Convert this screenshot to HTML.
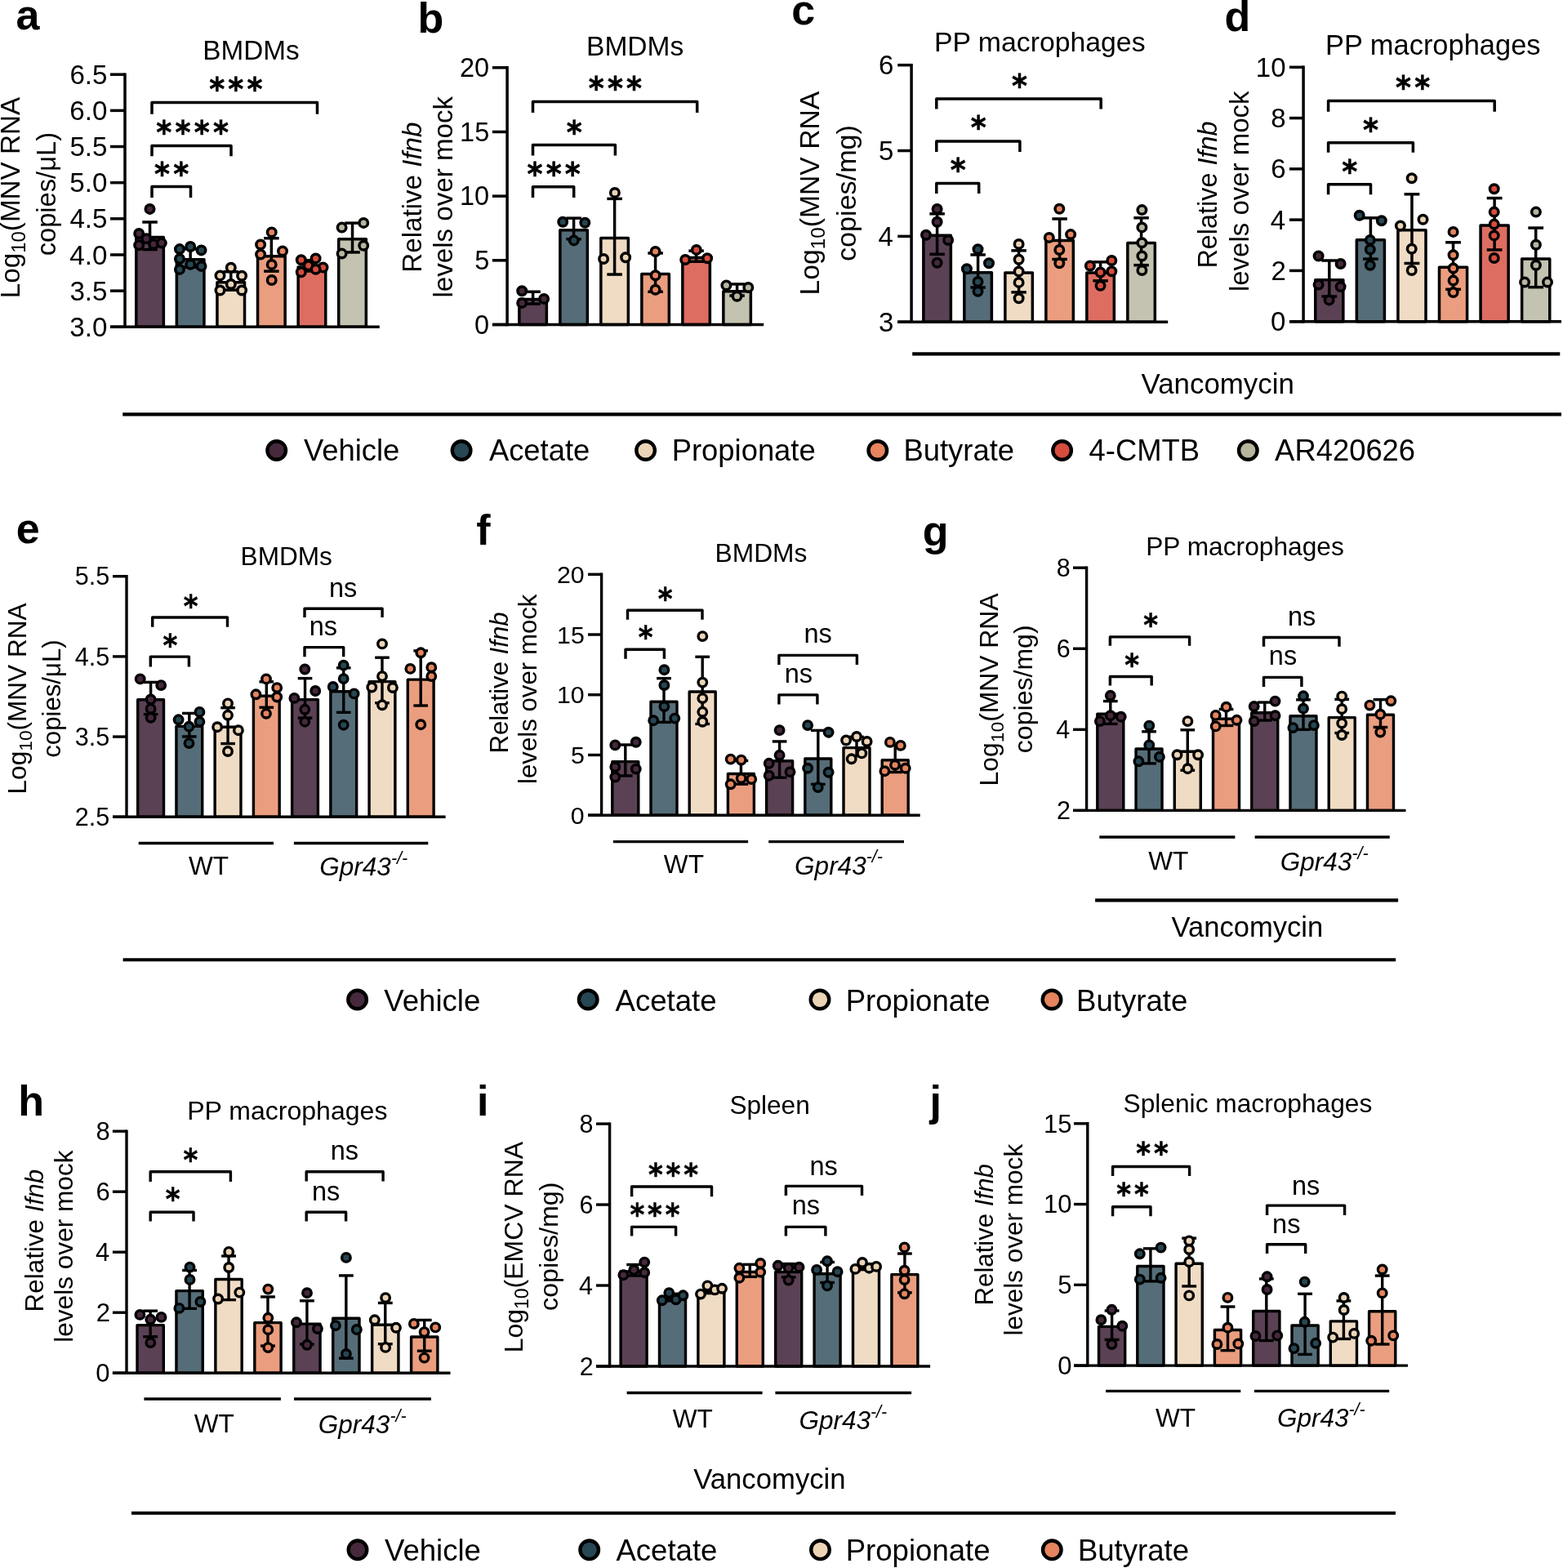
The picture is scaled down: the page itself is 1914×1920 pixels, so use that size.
<!DOCTYPE html>
<html><head><meta charset="utf-8"><title>Figure</title>
<style>html,body{margin:0;padding:0;background:#fff;}svg{display:block;}</style></head>
<body><svg xmlns="http://www.w3.org/2000/svg" width="1914" height="1920" viewBox="0 0 1914 1920">
<rect width="1914" height="1920" fill="#fff"/>
<g stroke="#000" fill="#000" font-family="'Liberation Sans', Arial, Helvetica, sans-serif">
<g stroke="none">
</g>
<rect x="166.75" y="290.52" width="33.6" height="109.78" fill="#5b4154" stroke-width="3.5" stroke-linejoin="round"/>
<rect x="216.35" y="317.76" width="33.6" height="82.54" fill="#556d78" stroke-width="3.5" stroke-linejoin="round"/>
<rect x="265.95" y="345.7" width="33.6" height="54.6" fill="#f0dcc4" stroke-width="3.5" stroke-linejoin="round"/>
<rect x="315.55" y="313.68" width="33.6" height="86.62" fill="#ea9e7f" stroke-width="3.5" stroke-linejoin="round"/>
<rect x="365.15" y="327.12" width="33.6" height="73.18" fill="#de6d61" stroke-width="3.5" stroke-linejoin="round"/>
<rect x="414.75" y="292.78" width="33.6" height="107.52" fill="#c4c3b1" stroke-width="3.5" stroke-linejoin="round"/>
<line x1="183.55" y1="271.97" x2="183.55" y2="305.56" stroke-width="3.5" stroke-linecap="butt"/>
<line x1="174.28" y1="271.97" x2="192.83" y2="271.97" stroke-width="3.5" stroke-linecap="butt"/>
<line x1="174.28" y1="305.56" x2="192.83" y2="305.56" stroke-width="3.5" stroke-linecap="butt"/>
<line x1="233.15" y1="304.78" x2="233.15" y2="327.25" stroke-width="3.5" stroke-linecap="butt"/>
<line x1="223.88" y1="304.78" x2="242.43" y2="304.78" stroke-width="3.5" stroke-linecap="butt"/>
<line x1="223.88" y1="327.25" x2="242.43" y2="327.25" stroke-width="3.5" stroke-linecap="butt"/>
<line x1="282.75" y1="332.75" x2="282.75" y2="355.15" stroke-width="3.5" stroke-linecap="butt"/>
<line x1="273.48" y1="332.75" x2="292.02" y2="332.75" stroke-width="3.5" stroke-linecap="butt"/>
<line x1="273.48" y1="355.15" x2="292.02" y2="355.15" stroke-width="3.5" stroke-linecap="butt"/>
<line x1="332.35" y1="291.73" x2="332.35" y2="332.13" stroke-width="3.5" stroke-linecap="butt"/>
<line x1="323.08" y1="291.73" x2="341.62" y2="291.73" stroke-width="3.5" stroke-linecap="butt"/>
<line x1="323.08" y1="332.13" x2="341.62" y2="332.13" stroke-width="3.5" stroke-linecap="butt"/>
<line x1="381.95" y1="318.77" x2="381.95" y2="331.96" stroke-width="3.5" stroke-linecap="butt"/>
<line x1="372.68" y1="318.77" x2="391.22" y2="318.77" stroke-width="3.5" stroke-linecap="butt"/>
<line x1="372.68" y1="331.96" x2="391.22" y2="331.96" stroke-width="3.5" stroke-linecap="butt"/>
<line x1="431.55" y1="273.12" x2="431.55" y2="308.93" stroke-width="3.5" stroke-linecap="butt"/>
<line x1="422.28" y1="273.12" x2="440.82" y2="273.12" stroke-width="3.5" stroke-linecap="butt"/>
<line x1="422.28" y1="308.93" x2="440.82" y2="308.93" stroke-width="3.5" stroke-linecap="butt"/>
<circle cx="183.5" cy="255.9" r="5.25" fill="#46293c" stroke-width="3.5"/>
<circle cx="170.2" cy="286" r="5.25" fill="#46293c" stroke-width="3.5"/>
<circle cx="179.2" cy="292.2" r="5.25" fill="#46293c" stroke-width="3.5"/>
<circle cx="170.2" cy="300.2" r="5.25" fill="#46293c" stroke-width="3.5"/>
<circle cx="188.1" cy="298.9" r="5.25" fill="#46293c" stroke-width="3.5"/>
<circle cx="197.8" cy="297.6" r="5.25" fill="#46293c" stroke-width="3.5"/>
<circle cx="219.95" cy="305.1" r="5.25" fill="#264753" stroke-width="3.5"/>
<circle cx="233.2" cy="302" r="5.25" fill="#264753" stroke-width="3.5"/>
<circle cx="246.5" cy="306.4" r="5.25" fill="#264753" stroke-width="3.5"/>
<circle cx="219.95" cy="317" r="5.25" fill="#264753" stroke-width="3.5"/>
<circle cx="233.2" cy="323.7" r="5.25" fill="#264753" stroke-width="3.5"/>
<circle cx="246.5" cy="325.9" r="5.25" fill="#264753" stroke-width="3.5"/>
<circle cx="219.95" cy="329.9" r="5.25" fill="#264753" stroke-width="3.5"/>
<circle cx="282.8" cy="327.7" r="5.25" fill="#ecd4b6" stroke-width="3.5"/>
<circle cx="269.5" cy="337.4" r="5.25" fill="#ecd4b6" stroke-width="3.5"/>
<circle cx="296.1" cy="337.8" r="5.25" fill="#ecd4b6" stroke-width="3.5"/>
<circle cx="282.8" cy="348" r="5.25" fill="#ecd4b6" stroke-width="3.5"/>
<circle cx="269.5" cy="355.5" r="5.25" fill="#ecd4b6" stroke-width="3.5"/>
<circle cx="296.1" cy="355.5" r="5.25" fill="#ecd4b6" stroke-width="3.5"/>
<circle cx="332.7" cy="284.4" r="5.25" fill="#e5845e" stroke-width="3.5"/>
<circle cx="319.1" cy="299.5" r="5.25" fill="#e5845e" stroke-width="3.5"/>
<circle cx="346" cy="307.5" r="5.25" fill="#e5845e" stroke-width="3.5"/>
<circle cx="319.1" cy="311.5" r="5.25" fill="#e5845e" stroke-width="3.5"/>
<circle cx="332.7" cy="323.9" r="5.25" fill="#e5845e" stroke-width="3.5"/>
<circle cx="332.7" cy="343" r="5.25" fill="#e5845e" stroke-width="3.5"/>
<circle cx="368.8" cy="318.2" r="5.25" fill="#d64d3e" stroke-width="3.5"/>
<circle cx="386.6" cy="316.4" r="5.25" fill="#d64d3e" stroke-width="3.5"/>
<circle cx="377.7" cy="325.3" r="5.25" fill="#d64d3e" stroke-width="3.5"/>
<circle cx="395.5" cy="327.5" r="5.25" fill="#d64d3e" stroke-width="3.5"/>
<circle cx="386.6" cy="329.7" r="5.25" fill="#d64d3e" stroke-width="3.5"/>
<circle cx="368.8" cy="333.3" r="5.25" fill="#d64d3e" stroke-width="3.5"/>
<circle cx="418.6" cy="278.6" r="5.25" fill="#b8b59e" stroke-width="3.5"/>
<circle cx="445.2" cy="272.9" r="5.25" fill="#b8b59e" stroke-width="3.5"/>
<circle cx="445.2" cy="300.8" r="5.25" fill="#b8b59e" stroke-width="3.5"/>
<circle cx="418.6" cy="310.6" r="5.25" fill="#b8b59e" stroke-width="3.5"/>
<line x1="153" y1="89.45" x2="153" y2="402.05" stroke-width="3.5" stroke-linecap="butt"/>
<line x1="135" y1="400.3" x2="464.8" y2="400.3" stroke-width="3.5" stroke-linecap="butt"/>
<line x1="135" y1="91.2" x2="153" y2="91.2" stroke-width="3.5" stroke-linecap="butt"/>
<line x1="135" y1="135.36" x2="153" y2="135.36" stroke-width="3.5" stroke-linecap="butt"/>
<line x1="135" y1="179.51" x2="153" y2="179.51" stroke-width="3.5" stroke-linecap="butt"/>
<line x1="135" y1="223.67" x2="153" y2="223.67" stroke-width="3.5" stroke-linecap="butt"/>
<line x1="135" y1="267.83" x2="153" y2="267.83" stroke-width="3.5" stroke-linecap="butt"/>
<line x1="135" y1="311.99" x2="153" y2="311.99" stroke-width="3.5" stroke-linecap="butt"/>
<line x1="135" y1="356.14" x2="153" y2="356.14" stroke-width="3.5" stroke-linecap="butt"/>
<line x1="135" y1="400.3" x2="153" y2="400.3" stroke-width="3.5" stroke-linecap="butt"/>
<path d="M186 242V228.5H233.5V242" stroke-width="3.5" fill="none" stroke-linejoin="round"/>
<path d="M186 191.2V178.6H283V191.2" stroke-width="3.5" fill="none" stroke-linejoin="round"/>
<path d="M186 139.8V125.5H388.5V139.8" stroke-width="3.5" fill="none" stroke-linejoin="round"/>
<rect x="635.85" y="366.42" width="33.5" height="31.08" fill="#5b4154" stroke-width="3.5" stroke-linejoin="round"/>
<rect x="685.85" y="281.68" width="33.5" height="115.82" fill="#556d78" stroke-width="3.5" stroke-linejoin="round"/>
<rect x="735.85" y="291.45" width="33.5" height="106.05" fill="#f0dcc4" stroke-width="3.5" stroke-linejoin="round"/>
<rect x="785.85" y="335.38" width="33.5" height="62.12" fill="#ea9e7f" stroke-width="3.5" stroke-linejoin="round"/>
<rect x="835.85" y="315.45" width="33.5" height="82.05" fill="#de6d61" stroke-width="3.5" stroke-linejoin="round"/>
<rect x="885.85" y="356.72" width="33.5" height="40.78" fill="#c4c3b1" stroke-width="3.5" stroke-linejoin="round"/>
<line x1="652.6" y1="357.25" x2="652.6" y2="372.09" stroke-width="3.5" stroke-linecap="butt"/>
<line x1="643.35" y1="357.25" x2="661.85" y2="357.25" stroke-width="3.5" stroke-linecap="butt"/>
<line x1="643.35" y1="372.09" x2="661.85" y2="372.09" stroke-width="3.5" stroke-linecap="butt"/>
<line x1="702.6" y1="267.14" x2="702.6" y2="292.73" stroke-width="3.5" stroke-linecap="butt"/>
<line x1="693.35" y1="267.14" x2="711.85" y2="267.14" stroke-width="3.5" stroke-linecap="butt"/>
<line x1="693.35" y1="292.73" x2="711.85" y2="292.73" stroke-width="3.5" stroke-linecap="butt"/>
<line x1="752.6" y1="243.36" x2="752.6" y2="336.04" stroke-width="3.5" stroke-linecap="butt"/>
<line x1="743.35" y1="243.36" x2="761.85" y2="243.36" stroke-width="3.5" stroke-linecap="butt"/>
<line x1="743.35" y1="336.04" x2="761.85" y2="336.04" stroke-width="3.5" stroke-linecap="butt"/>
<line x1="802.6" y1="309.99" x2="802.6" y2="357.27" stroke-width="3.5" stroke-linecap="butt"/>
<line x1="793.35" y1="309.99" x2="811.85" y2="309.99" stroke-width="3.5" stroke-linecap="butt"/>
<line x1="793.35" y1="357.27" x2="811.85" y2="357.27" stroke-width="3.5" stroke-linecap="butt"/>
<line x1="852.6" y1="307.15" x2="852.6" y2="320.25" stroke-width="3.5" stroke-linecap="butt"/>
<line x1="843.35" y1="307.15" x2="861.85" y2="307.15" stroke-width="3.5" stroke-linecap="butt"/>
<line x1="843.35" y1="320.25" x2="861.85" y2="320.25" stroke-width="3.5" stroke-linecap="butt"/>
<line x1="902.6" y1="347.9" x2="902.6" y2="362.04" stroke-width="3.5" stroke-linecap="butt"/>
<line x1="893.35" y1="347.9" x2="911.85" y2="347.9" stroke-width="3.5" stroke-linecap="butt"/>
<line x1="893.35" y1="362.04" x2="911.85" y2="362.04" stroke-width="3.5" stroke-linecap="butt"/>
<circle cx="639.2" cy="356.3" r="5.25" fill="#46293c" stroke-width="3.5"/>
<circle cx="639.2" cy="370.9" r="5.25" fill="#46293c" stroke-width="3.5"/>
<circle cx="666.1" cy="365.9" r="5.25" fill="#46293c" stroke-width="3.5"/>
<circle cx="689.2" cy="271.8" r="5.25" fill="#264753" stroke-width="3.5"/>
<circle cx="716.3" cy="272.7" r="5.25" fill="#264753" stroke-width="3.5"/>
<circle cx="702.8" cy="294.4" r="5.25" fill="#264753" stroke-width="3.5"/>
<circle cx="752.9" cy="235.9" r="5.25" fill="#ecd4b6" stroke-width="3.5"/>
<circle cx="739.1" cy="317" r="5.25" fill="#ecd4b6" stroke-width="3.5"/>
<circle cx="766.1" cy="315.3" r="5.25" fill="#ecd4b6" stroke-width="3.5"/>
<circle cx="802.6" cy="308" r="5.25" fill="#e5845e" stroke-width="3.5"/>
<circle cx="802.6" cy="337.2" r="5.25" fill="#e5845e" stroke-width="3.5"/>
<circle cx="802.6" cy="354.8" r="5.25" fill="#e5845e" stroke-width="3.5"/>
<circle cx="852.8" cy="305.9" r="5.25" fill="#d64d3e" stroke-width="3.5"/>
<circle cx="839.2" cy="318" r="5.25" fill="#d64d3e" stroke-width="3.5"/>
<circle cx="866.1" cy="316.3" r="5.25" fill="#d64d3e" stroke-width="3.5"/>
<circle cx="889.4" cy="349.4" r="5.25" fill="#b8b59e" stroke-width="3.5"/>
<circle cx="916.3" cy="351.9" r="5.25" fill="#b8b59e" stroke-width="3.5"/>
<circle cx="902.5" cy="362.7" r="5.25" fill="#b8b59e" stroke-width="3.5"/>
<line x1="621.1" y1="81.05" x2="621.1" y2="399.25" stroke-width="3.5" stroke-linecap="butt"/>
<line x1="602.9" y1="397.5" x2="935.2" y2="397.5" stroke-width="3.5" stroke-linecap="butt"/>
<line x1="602.9" y1="82.8" x2="621.1" y2="82.8" stroke-width="3.5" stroke-linecap="butt"/>
<line x1="602.9" y1="161.47" x2="621.1" y2="161.47" stroke-width="3.5" stroke-linecap="butt"/>
<line x1="602.9" y1="240.15" x2="621.1" y2="240.15" stroke-width="3.5" stroke-linecap="butt"/>
<line x1="602.9" y1="318.82" x2="621.1" y2="318.82" stroke-width="3.5" stroke-linecap="butt"/>
<line x1="602.9" y1="397.5" x2="621.1" y2="397.5" stroke-width="3.5" stroke-linecap="butt"/>
<path d="M652.5 242V228.7H702.7V242" stroke-width="3.5" fill="none" stroke-linejoin="round"/>
<path d="M652.5 190.6V177.6H753.4V190.6" stroke-width="3.5" fill="none" stroke-linejoin="round"/>
<path d="M652.5 137.9V124.6H853.7V137.9" stroke-width="3.5" fill="none" stroke-linejoin="round"/>
<rect x="1130.85" y="288.31" width="33.5" height="105.89" fill="#5b4154" stroke-width="3.5" stroke-linejoin="round"/>
<rect x="1180.85" y="333.69" width="33.5" height="60.51" fill="#556d78" stroke-width="3.5" stroke-linejoin="round"/>
<rect x="1230.85" y="334.09" width="33.5" height="60.11" fill="#f0dcc4" stroke-width="3.5" stroke-linejoin="round"/>
<rect x="1280.85" y="294.47" width="33.5" height="99.73" fill="#ea9e7f" stroke-width="3.5" stroke-linejoin="round"/>
<rect x="1330.85" y="334.07" width="33.5" height="60.13" fill="#de6d61" stroke-width="3.5" stroke-linejoin="round"/>
<rect x="1380.85" y="297.49" width="33.5" height="96.71" fill="#c4c3b1" stroke-width="3.5" stroke-linejoin="round"/>
<line x1="1147.6" y1="261.81" x2="1147.6" y2="311.31" stroke-width="3.5" stroke-linecap="butt"/>
<line x1="1138.35" y1="261.81" x2="1156.85" y2="261.81" stroke-width="3.5" stroke-linecap="butt"/>
<line x1="1138.35" y1="311.31" x2="1156.85" y2="311.31" stroke-width="3.5" stroke-linecap="butt"/>
<line x1="1197.6" y1="311.95" x2="1197.6" y2="351.93" stroke-width="3.5" stroke-linecap="butt"/>
<line x1="1188.35" y1="311.95" x2="1206.85" y2="311.95" stroke-width="3.5" stroke-linecap="butt"/>
<line x1="1188.35" y1="351.93" x2="1206.85" y2="351.93" stroke-width="3.5" stroke-linecap="butt"/>
<line x1="1247.6" y1="306.83" x2="1247.6" y2="357.85" stroke-width="3.5" stroke-linecap="butt"/>
<line x1="1238.35" y1="306.83" x2="1256.85" y2="306.83" stroke-width="3.5" stroke-linecap="butt"/>
<line x1="1238.35" y1="357.85" x2="1256.85" y2="357.85" stroke-width="3.5" stroke-linecap="butt"/>
<line x1="1297.6" y1="267.98" x2="1297.6" y2="317.46" stroke-width="3.5" stroke-linecap="butt"/>
<line x1="1288.35" y1="267.98" x2="1306.85" y2="267.98" stroke-width="3.5" stroke-linecap="butt"/>
<line x1="1288.35" y1="317.46" x2="1306.85" y2="317.46" stroke-width="3.5" stroke-linecap="butt"/>
<line x1="1347.6" y1="320.8" x2="1347.6" y2="343.84" stroke-width="3.5" stroke-linecap="butt"/>
<line x1="1338.35" y1="320.8" x2="1356.85" y2="320.8" stroke-width="3.5" stroke-linecap="butt"/>
<line x1="1338.35" y1="343.84" x2="1356.85" y2="343.84" stroke-width="3.5" stroke-linecap="butt"/>
<line x1="1397.6" y1="266.78" x2="1397.6" y2="324.7" stroke-width="3.5" stroke-linecap="butt"/>
<line x1="1388.35" y1="266.78" x2="1406.85" y2="266.78" stroke-width="3.5" stroke-linecap="butt"/>
<line x1="1388.35" y1="324.7" x2="1406.85" y2="324.7" stroke-width="3.5" stroke-linecap="butt"/>
<circle cx="1147.6" cy="256" r="5.25" fill="#46293c" stroke-width="3.5"/>
<circle cx="1147.6" cy="271.8" r="5.25" fill="#46293c" stroke-width="3.5"/>
<circle cx="1134" cy="287.7" r="5.25" fill="#46293c" stroke-width="3.5"/>
<circle cx="1161.1" cy="294" r="5.25" fill="#46293c" stroke-width="3.5"/>
<circle cx="1147.6" cy="321.8" r="5.25" fill="#46293c" stroke-width="3.5"/>
<circle cx="1197.5" cy="305.2" r="5.25" fill="#264753" stroke-width="3.5"/>
<circle cx="1183.9" cy="329.2" r="5.25" fill="#264753" stroke-width="3.5"/>
<circle cx="1211" cy="322.2" r="5.25" fill="#264753" stroke-width="3.5"/>
<circle cx="1197.5" cy="344.9" r="5.25" fill="#264753" stroke-width="3.5"/>
<circle cx="1197.5" cy="356.7" r="5.25" fill="#264753" stroke-width="3.5"/>
<circle cx="1247.6" cy="298.9" r="5.25" fill="#ecd4b6" stroke-width="3.5"/>
<circle cx="1247.6" cy="317.7" r="5.25" fill="#ecd4b6" stroke-width="3.5"/>
<circle cx="1247.6" cy="332.4" r="5.25" fill="#ecd4b6" stroke-width="3.5"/>
<circle cx="1247.6" cy="345.9" r="5.25" fill="#ecd4b6" stroke-width="3.5"/>
<circle cx="1247.6" cy="365.3" r="5.25" fill="#ecd4b6" stroke-width="3.5"/>
<circle cx="1297.3" cy="255.8" r="5.25" fill="#e5845e" stroke-width="3.5"/>
<circle cx="1284.8" cy="290.9" r="5.25" fill="#e5845e" stroke-width="3.5"/>
<circle cx="1311.1" cy="287.1" r="5.25" fill="#e5845e" stroke-width="3.5"/>
<circle cx="1297.3" cy="306" r="5.25" fill="#e5845e" stroke-width="3.5"/>
<circle cx="1297.3" cy="322.3" r="5.25" fill="#e5845e" stroke-width="3.5"/>
<circle cx="1334.9" cy="325.5" r="5.25" fill="#d64d3e" stroke-width="3.5"/>
<circle cx="1361.3" cy="319" r="5.25" fill="#d64d3e" stroke-width="3.5"/>
<circle cx="1361.3" cy="332.3" r="5.25" fill="#d64d3e" stroke-width="3.5"/>
<circle cx="1347.5" cy="333.5" r="5.25" fill="#d64d3e" stroke-width="3.5"/>
<circle cx="1347.5" cy="349.8" r="5.25" fill="#d64d3e" stroke-width="3.5"/>
<circle cx="1398.4" cy="257.1" r="5.25" fill="#b8b59e" stroke-width="3.5"/>
<circle cx="1398.4" cy="278.4" r="5.25" fill="#b8b59e" stroke-width="3.5"/>
<circle cx="1398.4" cy="297.2" r="5.25" fill="#b8b59e" stroke-width="3.5"/>
<circle cx="1398.4" cy="313.5" r="5.25" fill="#b8b59e" stroke-width="3.5"/>
<circle cx="1398.4" cy="331" r="5.25" fill="#b8b59e" stroke-width="3.5"/>
<line x1="1116.1" y1="77.95" x2="1116.1" y2="395.95" stroke-width="3.5" stroke-linecap="butt"/>
<line x1="1099.2" y1="394.2" x2="1430.2" y2="394.2" stroke-width="3.5" stroke-linecap="butt"/>
<line x1="1099.2" y1="79.7" x2="1116.1" y2="79.7" stroke-width="3.5" stroke-linecap="butt"/>
<line x1="1099.2" y1="184.53" x2="1116.1" y2="184.53" stroke-width="3.5" stroke-linecap="butt"/>
<line x1="1099.2" y1="289.37" x2="1116.1" y2="289.37" stroke-width="3.5" stroke-linecap="butt"/>
<line x1="1099.2" y1="394.2" x2="1116.1" y2="394.2" stroke-width="3.5" stroke-linecap="butt"/>
<path d="M1146.8 237V224.5H1198.7V237" stroke-width="3.5" fill="none" stroke-linejoin="round"/>
<path d="M1146.8 186V173H1248.9V186" stroke-width="3.5" fill="none" stroke-linejoin="round"/>
<path d="M1146.8 133.4V121.1H1348.2V133.4" stroke-width="3.5" fill="none" stroke-linejoin="round"/>
<rect x="1610.75" y="342.77" width="34.1" height="50.93" fill="#5b4154" stroke-width="3.5" stroke-linejoin="round"/>
<rect x="1661.33" y="293.71" width="34.1" height="99.99" fill="#556d78" stroke-width="3.5" stroke-linejoin="round"/>
<rect x="1711.91" y="281.87" width="34.1" height="111.83" fill="#f0dcc4" stroke-width="3.5" stroke-linejoin="round"/>
<rect x="1762.49" y="327.31" width="34.1" height="66.39" fill="#ea9e7f" stroke-width="3.5" stroke-linejoin="round"/>
<rect x="1813.07" y="276.01" width="34.1" height="117.69" fill="#de6d61" stroke-width="3.5" stroke-linejoin="round"/>
<rect x="1863.65" y="317.11" width="34.1" height="76.59" fill="#c4c3b1" stroke-width="3.5" stroke-linejoin="round"/>
<line x1="1627.8" y1="319.02" x2="1627.8" y2="363.02" stroke-width="3.5" stroke-linecap="butt"/>
<line x1="1618.4" y1="319.02" x2="1637.2" y2="319.02" stroke-width="3.5" stroke-linecap="butt"/>
<line x1="1618.4" y1="363.02" x2="1637.2" y2="363.02" stroke-width="3.5" stroke-linecap="butt"/>
<line x1="1678.38" y1="266.82" x2="1678.38" y2="317.1" stroke-width="3.5" stroke-linecap="butt"/>
<line x1="1668.98" y1="266.82" x2="1687.78" y2="266.82" stroke-width="3.5" stroke-linecap="butt"/>
<line x1="1668.98" y1="317.1" x2="1687.78" y2="317.1" stroke-width="3.5" stroke-linecap="butt"/>
<line x1="1728.96" y1="237.79" x2="1728.96" y2="322.45" stroke-width="3.5" stroke-linecap="butt"/>
<line x1="1719.56" y1="237.79" x2="1738.36" y2="237.79" stroke-width="3.5" stroke-linecap="butt"/>
<line x1="1719.56" y1="322.45" x2="1738.36" y2="322.45" stroke-width="3.5" stroke-linecap="butt"/>
<line x1="1779.54" y1="296.81" x2="1779.54" y2="354.31" stroke-width="3.5" stroke-linecap="butt"/>
<line x1="1770.14" y1="296.81" x2="1788.94" y2="296.81" stroke-width="3.5" stroke-linecap="butt"/>
<line x1="1770.14" y1="354.31" x2="1788.94" y2="354.31" stroke-width="3.5" stroke-linecap="butt"/>
<line x1="1830.12" y1="242.59" x2="1830.12" y2="305.93" stroke-width="3.5" stroke-linecap="butt"/>
<line x1="1820.72" y1="242.59" x2="1839.52" y2="242.59" stroke-width="3.5" stroke-linecap="butt"/>
<line x1="1820.72" y1="305.93" x2="1839.52" y2="305.93" stroke-width="3.5" stroke-linecap="butt"/>
<line x1="1880.7" y1="279.06" x2="1880.7" y2="351.66" stroke-width="3.5" stroke-linecap="butt"/>
<line x1="1871.3" y1="279.06" x2="1890.1" y2="279.06" stroke-width="3.5" stroke-linecap="butt"/>
<line x1="1871.3" y1="351.66" x2="1890.1" y2="351.66" stroke-width="3.5" stroke-linecap="butt"/>
<circle cx="1614.6" cy="313.5" r="5.25" fill="#46293c" stroke-width="3.5"/>
<circle cx="1641.6" cy="323" r="5.25" fill="#46293c" stroke-width="3.5"/>
<circle cx="1614.6" cy="348.6" r="5.25" fill="#46293c" stroke-width="3.5"/>
<circle cx="1641.6" cy="351.1" r="5.25" fill="#46293c" stroke-width="3.5"/>
<circle cx="1627.6" cy="367.4" r="5.25" fill="#46293c" stroke-width="3.5"/>
<circle cx="1664.7" cy="263.8" r="5.25" fill="#264753" stroke-width="3.5"/>
<circle cx="1691.8" cy="270.3" r="5.25" fill="#264753" stroke-width="3.5"/>
<circle cx="1677.8" cy="293.9" r="5.25" fill="#264753" stroke-width="3.5"/>
<circle cx="1677.8" cy="305.5" r="5.25" fill="#264753" stroke-width="3.5"/>
<circle cx="1677.8" cy="324.8" r="5.25" fill="#264753" stroke-width="3.5"/>
<circle cx="1728.7" cy="218.2" r="5.25" fill="#ecd4b6" stroke-width="3.5"/>
<circle cx="1714.9" cy="276.4" r="5.25" fill="#ecd4b6" stroke-width="3.5"/>
<circle cx="1742.5" cy="268.8" r="5.25" fill="#ecd4b6" stroke-width="3.5"/>
<circle cx="1728.7" cy="304.7" r="5.25" fill="#ecd4b6" stroke-width="3.5"/>
<circle cx="1728.7" cy="331" r="5.25" fill="#ecd4b6" stroke-width="3.5"/>
<circle cx="1779.6" cy="283.9" r="5.25" fill="#e5845e" stroke-width="3.5"/>
<circle cx="1779.6" cy="312.2" r="5.25" fill="#e5845e" stroke-width="3.5"/>
<circle cx="1779.6" cy="328.5" r="5.25" fill="#e5845e" stroke-width="3.5"/>
<circle cx="1779.6" cy="343.6" r="5.25" fill="#e5845e" stroke-width="3.5"/>
<circle cx="1779.6" cy="358.1" r="5.25" fill="#e5845e" stroke-width="3.5"/>
<circle cx="1829.7" cy="231.2" r="5.25" fill="#d64d3e" stroke-width="3.5"/>
<circle cx="1829.7" cy="259.6" r="5.25" fill="#d64d3e" stroke-width="3.5"/>
<circle cx="1829.7" cy="274.6" r="5.25" fill="#d64d3e" stroke-width="3.5"/>
<circle cx="1829.7" cy="288.4" r="5.25" fill="#d64d3e" stroke-width="3.5"/>
<circle cx="1829.7" cy="316" r="5.25" fill="#d64d3e" stroke-width="3.5"/>
<circle cx="1880.9" cy="259.6" r="5.25" fill="#b8b59e" stroke-width="3.5"/>
<circle cx="1880.9" cy="299.7" r="5.25" fill="#b8b59e" stroke-width="3.5"/>
<circle cx="1880.9" cy="324.8" r="5.25" fill="#b8b59e" stroke-width="3.5"/>
<circle cx="1867.1" cy="345.6" r="5.25" fill="#b8b59e" stroke-width="3.5"/>
<circle cx="1895" cy="345.6" r="5.25" fill="#b8b59e" stroke-width="3.5"/>
<line x1="1596.1" y1="80.55" x2="1596.1" y2="395.45" stroke-width="3.5" stroke-linecap="butt"/>
<line x1="1579" y1="393.7" x2="1912" y2="393.7" stroke-width="3.5" stroke-linecap="butt"/>
<line x1="1579" y1="82.3" x2="1596.1" y2="82.3" stroke-width="3.5" stroke-linecap="butt"/>
<line x1="1579" y1="144.58" x2="1596.1" y2="144.58" stroke-width="3.5" stroke-linecap="butt"/>
<line x1="1579" y1="206.86" x2="1596.1" y2="206.86" stroke-width="3.5" stroke-linecap="butt"/>
<line x1="1579" y1="269.14" x2="1596.1" y2="269.14" stroke-width="3.5" stroke-linecap="butt"/>
<line x1="1579" y1="331.42" x2="1596.1" y2="331.42" stroke-width="3.5" stroke-linecap="butt"/>
<line x1="1579" y1="393.7" x2="1596.1" y2="393.7" stroke-width="3.5" stroke-linecap="butt"/>
<path d="M1626.6 238.2V225.7H1678.5V238.2" stroke-width="3.5" fill="none" stroke-linejoin="round"/>
<path d="M1626.6 186.8V174.8H1730.4V186.8" stroke-width="3.5" fill="none" stroke-linejoin="round"/>
<path d="M1626.6 136.7V123.4H1830.2V136.7" stroke-width="3.5" fill="none" stroke-linejoin="round"/>
<line x1="1117.2" y1="433.4" x2="1910.3" y2="433.4" stroke-width="4.1" stroke-linecap="butt"/>
<line x1="150.2" y1="507.4" x2="1912" y2="507.4" stroke-width="4.1" stroke-linecap="butt"/>
<circle cx="338.7" cy="551.5" r="11.3" fill="#46293c" stroke-width="4.4"/>
<circle cx="565.1" cy="551.5" r="11.3" fill="#264753" stroke-width="4.4"/>
<circle cx="790.6" cy="551.5" r="11.3" fill="#ecd4b6" stroke-width="4.4"/>
<circle cx="1074.8" cy="551.5" r="11.3" fill="#e5845e" stroke-width="4.4"/>
<circle cx="1300.6" cy="551.5" r="11.3" fill="#d64d3e" stroke-width="4.4"/>
<circle cx="1528.3" cy="551.5" r="11.3" fill="#b8b59e" stroke-width="4.4"/>
<rect x="168.7" y="856.74" width="31.8" height="143.56" fill="#5b4154" stroke-width="3.4" stroke-linejoin="round"/>
<rect x="215.93" y="889.36" width="31.8" height="110.94" fill="#556d78" stroke-width="3.4" stroke-linejoin="round"/>
<rect x="263.16" y="890.32" width="31.8" height="109.98" fill="#f0dcc4" stroke-width="3.4" stroke-linejoin="round"/>
<rect x="310.39" y="852.22" width="31.8" height="148.08" fill="#ea9e7f" stroke-width="3.4" stroke-linejoin="round"/>
<rect x="357.62" y="856.58" width="31.8" height="143.72" fill="#5b4154" stroke-width="3.4" stroke-linejoin="round"/>
<rect x="404.85" y="846.78" width="31.8" height="153.52" fill="#556d78" stroke-width="3.4" stroke-linejoin="round"/>
<rect x="452.08" y="834.66" width="31.8" height="165.64" fill="#f0dcc4" stroke-width="3.4" stroke-linejoin="round"/>
<rect x="499.31" y="832.14" width="31.8" height="168.16" fill="#ea9e7f" stroke-width="3.4" stroke-linejoin="round"/>
<line x1="184.6" y1="835.39" x2="184.6" y2="874.69" stroke-width="3.4" stroke-linecap="butt"/>
<line x1="175.8" y1="835.39" x2="193.4" y2="835.39" stroke-width="3.4" stroke-linecap="butt"/>
<line x1="175.8" y1="874.69" x2="193.4" y2="874.69" stroke-width="3.4" stroke-linecap="butt"/>
<line x1="231.83" y1="873.42" x2="231.83" y2="901.9" stroke-width="3.4" stroke-linecap="butt"/>
<line x1="223.03" y1="873.42" x2="240.63" y2="873.42" stroke-width="3.4" stroke-linecap="butt"/>
<line x1="223.03" y1="901.9" x2="240.63" y2="901.9" stroke-width="3.4" stroke-linecap="butt"/>
<line x1="279.06" y1="866.69" x2="279.06" y2="910.55" stroke-width="3.4" stroke-linecap="butt"/>
<line x1="270.26" y1="866.69" x2="287.86" y2="866.69" stroke-width="3.4" stroke-linecap="butt"/>
<line x1="270.26" y1="910.55" x2="287.86" y2="910.55" stroke-width="3.4" stroke-linecap="butt"/>
<line x1="326.29" y1="834.81" x2="326.29" y2="866.23" stroke-width="3.4" stroke-linecap="butt"/>
<line x1="317.49" y1="834.81" x2="335.09" y2="834.81" stroke-width="3.4" stroke-linecap="butt"/>
<line x1="317.49" y1="866.23" x2="335.09" y2="866.23" stroke-width="3.4" stroke-linecap="butt"/>
<line x1="373.52" y1="830.62" x2="373.52" y2="879.14" stroke-width="3.4" stroke-linecap="butt"/>
<line x1="364.72" y1="830.62" x2="382.32" y2="830.62" stroke-width="3.4" stroke-linecap="butt"/>
<line x1="364.72" y1="879.14" x2="382.32" y2="879.14" stroke-width="3.4" stroke-linecap="butt"/>
<line x1="420.75" y1="817.83" x2="420.75" y2="872.33" stroke-width="3.4" stroke-linecap="butt"/>
<line x1="411.95" y1="817.83" x2="429.55" y2="817.83" stroke-width="3.4" stroke-linecap="butt"/>
<line x1="411.95" y1="872.33" x2="429.55" y2="872.33" stroke-width="3.4" stroke-linecap="butt"/>
<line x1="467.98" y1="805.19" x2="467.98" y2="860.73" stroke-width="3.4" stroke-linecap="butt"/>
<line x1="459.18" y1="805.19" x2="476.78" y2="805.19" stroke-width="3.4" stroke-linecap="butt"/>
<line x1="459.18" y1="860.73" x2="476.78" y2="860.73" stroke-width="3.4" stroke-linecap="butt"/>
<line x1="515.21" y1="796.88" x2="515.21" y2="864" stroke-width="3.4" stroke-linecap="butt"/>
<line x1="506.41" y1="796.88" x2="524.01" y2="796.88" stroke-width="3.4" stroke-linecap="butt"/>
<line x1="506.41" y1="864" x2="524.01" y2="864" stroke-width="3.4" stroke-linecap="butt"/>
<circle cx="171.7" cy="831.4" r="5.25" fill="#46293c" stroke-width="3.4"/>
<circle cx="197.2" cy="839.1" r="5.25" fill="#46293c" stroke-width="3.4"/>
<circle cx="184.6" cy="856.5" r="5.25" fill="#46293c" stroke-width="3.4"/>
<circle cx="184.6" cy="867.9" r="5.25" fill="#46293c" stroke-width="3.4"/>
<circle cx="184.6" cy="878.8" r="5.25" fill="#46293c" stroke-width="3.4"/>
<circle cx="218.6" cy="881.3" r="5.25" fill="#264753" stroke-width="3.4"/>
<circle cx="244.4" cy="871.9" r="5.25" fill="#264753" stroke-width="3.4"/>
<circle cx="244.4" cy="883.8" r="5.25" fill="#264753" stroke-width="3.4"/>
<circle cx="231.5" cy="889.7" r="5.25" fill="#264753" stroke-width="3.4"/>
<circle cx="231.5" cy="910.1" r="5.25" fill="#264753" stroke-width="3.4"/>
<circle cx="279" cy="861.4" r="5.25" fill="#ecd4b6" stroke-width="3.4"/>
<circle cx="279" cy="875.8" r="5.25" fill="#ecd4b6" stroke-width="3.4"/>
<circle cx="266.1" cy="890.2" r="5.25" fill="#ecd4b6" stroke-width="3.4"/>
<circle cx="291.9" cy="894.2" r="5.25" fill="#ecd4b6" stroke-width="3.4"/>
<circle cx="279" cy="920" r="5.25" fill="#ecd4b6" stroke-width="3.4"/>
<circle cx="326" cy="831.4" r="5.25" fill="#e5845e" stroke-width="3.4"/>
<circle cx="313.4" cy="850.3" r="5.25" fill="#e5845e" stroke-width="3.4"/>
<circle cx="339.2" cy="842.1" r="5.25" fill="#e5845e" stroke-width="3.4"/>
<circle cx="339.2" cy="853.5" r="5.25" fill="#e5845e" stroke-width="3.4"/>
<circle cx="326" cy="873.8" r="5.25" fill="#e5845e" stroke-width="3.4"/>
<circle cx="373.3" cy="819.5" r="5.25" fill="#46293c" stroke-width="3.4"/>
<circle cx="386.2" cy="846" r="5.25" fill="#46293c" stroke-width="3.4"/>
<circle cx="360.4" cy="854.9" r="5.25" fill="#46293c" stroke-width="3.4"/>
<circle cx="373.3" cy="868.8" r="5.25" fill="#46293c" stroke-width="3.4"/>
<circle cx="373.3" cy="883.7" r="5.25" fill="#46293c" stroke-width="3.4"/>
<circle cx="420.7" cy="814.7" r="5.25" fill="#264753" stroke-width="3.4"/>
<circle cx="420.7" cy="831.1" r="5.25" fill="#264753" stroke-width="3.4"/>
<circle cx="407.8" cy="841" r="5.25" fill="#264753" stroke-width="3.4"/>
<circle cx="433.6" cy="849.4" r="5.25" fill="#264753" stroke-width="3.4"/>
<circle cx="420.7" cy="887.7" r="5.25" fill="#264753" stroke-width="3.4"/>
<circle cx="468" cy="788.4" r="5.25" fill="#ecd4b6" stroke-width="3.4"/>
<circle cx="468" cy="828.1" r="5.25" fill="#ecd4b6" stroke-width="3.4"/>
<circle cx="455.3" cy="841.5" r="5.25" fill="#ecd4b6" stroke-width="3.4"/>
<circle cx="480.9" cy="842" r="5.25" fill="#ecd4b6" stroke-width="3.4"/>
<circle cx="468" cy="863.3" r="5.25" fill="#ecd4b6" stroke-width="3.4"/>
<circle cx="515.3" cy="799.3" r="5.25" fill="#e5845e" stroke-width="3.4"/>
<circle cx="502.4" cy="818.9" r="5.25" fill="#e5845e" stroke-width="3.4"/>
<circle cx="528.3" cy="817.2" r="5.25" fill="#e5845e" stroke-width="3.4"/>
<circle cx="528.3" cy="828.1" r="5.25" fill="#e5845e" stroke-width="3.4"/>
<circle cx="515.3" cy="887.2" r="5.25" fill="#e5845e" stroke-width="3.4"/>
<line x1="155" y1="704" x2="155" y2="1002" stroke-width="3.4" stroke-linecap="butt"/>
<line x1="138" y1="1000.3" x2="545.6" y2="1000.3" stroke-width="3.4" stroke-linecap="butt"/>
<line x1="138" y1="705.7" x2="155" y2="705.7" stroke-width="3.4" stroke-linecap="butt"/>
<line x1="138" y1="803.9" x2="155" y2="803.9" stroke-width="3.4" stroke-linecap="butt"/>
<line x1="138" y1="902.1" x2="155" y2="902.1" stroke-width="3.4" stroke-linecap="butt"/>
<line x1="138" y1="1000.3" x2="155" y2="1000.3" stroke-width="3.4" stroke-linecap="butt"/>
<path d="M184.3 816.4V804.1H231.4V816.4" stroke-width="3.4" fill="none" stroke-linejoin="round"/>
<path d="M186.7 767.7V756H278.5V767.7" stroke-width="3.4" fill="none" stroke-linejoin="round"/>
<path d="M373 804.3V792.6H420.7V804.3" stroke-width="3.4" fill="none" stroke-linejoin="round"/>
<path d="M373 756V745.2H468.1V756" stroke-width="3.4" fill="none" stroke-linejoin="round"/>
<line x1="169.7" y1="1032.5" x2="335" y2="1032.5" stroke-width="3.4" stroke-linecap="butt"/>
<line x1="359.9" y1="1032.5" x2="524.3" y2="1032.5" stroke-width="3.4" stroke-linecap="butt"/>
<rect x="749.8" y="932.65" width="32" height="65.55" fill="#5b4154" stroke-width="3.4" stroke-linejoin="round"/>
<rect x="797" y="859.2" width="32" height="139" fill="#556d78" stroke-width="3.4" stroke-linejoin="round"/>
<rect x="844.2" y="847.07" width="32" height="151.13" fill="#f0dcc4" stroke-width="3.4" stroke-linejoin="round"/>
<rect x="891.4" y="947.52" width="32" height="50.68" fill="#ea9e7f" stroke-width="3.4" stroke-linejoin="round"/>
<rect x="938.6" y="931.72" width="32" height="66.48" fill="#5b4154" stroke-width="3.4" stroke-linejoin="round"/>
<rect x="985.8" y="929.06" width="32" height="69.14" fill="#556d78" stroke-width="3.4" stroke-linejoin="round"/>
<rect x="1033" y="915.64" width="32" height="82.56" fill="#f0dcc4" stroke-width="3.4" stroke-linejoin="round"/>
<rect x="1080.2" y="930.7" width="32" height="67.5" fill="#ea9e7f" stroke-width="3.4" stroke-linejoin="round"/>
<line x1="765.8" y1="912" x2="765.8" y2="949.9" stroke-width="3.4" stroke-linecap="butt"/>
<line x1="756.95" y1="912" x2="774.65" y2="912" stroke-width="3.4" stroke-linecap="butt"/>
<line x1="756.95" y1="949.9" x2="774.65" y2="949.9" stroke-width="3.4" stroke-linecap="butt"/>
<line x1="813" y1="830.63" x2="813" y2="884.37" stroke-width="3.4" stroke-linecap="butt"/>
<line x1="804.15" y1="830.63" x2="821.85" y2="830.63" stroke-width="3.4" stroke-linecap="butt"/>
<line x1="804.15" y1="884.37" x2="821.85" y2="884.37" stroke-width="3.4" stroke-linecap="butt"/>
<line x1="860.2" y1="804.28" x2="860.2" y2="886.46" stroke-width="3.4" stroke-linecap="butt"/>
<line x1="851.35" y1="804.28" x2="869.05" y2="804.28" stroke-width="3.4" stroke-linecap="butt"/>
<line x1="851.35" y1="886.46" x2="869.05" y2="886.46" stroke-width="3.4" stroke-linecap="butt"/>
<line x1="907.4" y1="931.47" x2="907.4" y2="960.17" stroke-width="3.4" stroke-linecap="butt"/>
<line x1="898.55" y1="931.47" x2="916.25" y2="931.47" stroke-width="3.4" stroke-linecap="butt"/>
<line x1="898.55" y1="960.17" x2="916.25" y2="960.17" stroke-width="3.4" stroke-linecap="butt"/>
<line x1="954.6" y1="907.9" x2="954.6" y2="952.14" stroke-width="3.4" stroke-linecap="butt"/>
<line x1="945.75" y1="907.9" x2="963.45" y2="907.9" stroke-width="3.4" stroke-linecap="butt"/>
<line x1="945.75" y1="952.14" x2="963.45" y2="952.14" stroke-width="3.4" stroke-linecap="butt"/>
<line x1="1001.8" y1="894.4" x2="1001.8" y2="960.32" stroke-width="3.4" stroke-linecap="butt"/>
<line x1="992.95" y1="894.4" x2="1010.65" y2="894.4" stroke-width="3.4" stroke-linecap="butt"/>
<line x1="992.95" y1="960.32" x2="1010.65" y2="960.32" stroke-width="3.4" stroke-linecap="butt"/>
<line x1="1049" y1="902.32" x2="1049" y2="925.56" stroke-width="3.4" stroke-linecap="butt"/>
<line x1="1040.15" y1="902.32" x2="1057.85" y2="902.32" stroke-width="3.4" stroke-linecap="butt"/>
<line x1="1040.15" y1="925.56" x2="1057.85" y2="925.56" stroke-width="3.4" stroke-linecap="butt"/>
<line x1="1096.2" y1="912.48" x2="1096.2" y2="945.52" stroke-width="3.4" stroke-linecap="butt"/>
<line x1="1087.35" y1="912.48" x2="1105.05" y2="912.48" stroke-width="3.4" stroke-linecap="butt"/>
<line x1="1087.35" y1="945.52" x2="1105.05" y2="945.52" stroke-width="3.4" stroke-linecap="butt"/>
<circle cx="753.3" cy="912.4" r="5.25" fill="#46293c" stroke-width="3.4"/>
<circle cx="778.75" cy="908.75" r="5.25" fill="#46293c" stroke-width="3.4"/>
<circle cx="753.3" cy="939" r="5.25" fill="#46293c" stroke-width="3.4"/>
<circle cx="778.75" cy="941.6" r="5.25" fill="#46293c" stroke-width="3.4"/>
<circle cx="753.3" cy="951.5" r="5.25" fill="#46293c" stroke-width="3.4"/>
<circle cx="813.4" cy="820.2" r="5.25" fill="#264753" stroke-width="3.4"/>
<circle cx="813.4" cy="839" r="5.25" fill="#264753" stroke-width="3.4"/>
<circle cx="813.4" cy="865" r="5.25" fill="#264753" stroke-width="3.4"/>
<circle cx="800.2" cy="882.2" r="5.25" fill="#264753" stroke-width="3.4"/>
<circle cx="826.25" cy="879.6" r="5.25" fill="#264753" stroke-width="3.4"/>
<circle cx="860.3" cy="779.1" r="5.25" fill="#ecd4b6" stroke-width="3.4"/>
<circle cx="860.3" cy="835.6" r="5.25" fill="#ecd4b6" stroke-width="3.4"/>
<circle cx="860.3" cy="855.1" r="5.25" fill="#ecd4b6" stroke-width="3.4"/>
<circle cx="860.3" cy="871.8" r="5.25" fill="#ecd4b6" stroke-width="3.4"/>
<circle cx="860.3" cy="883.75" r="5.25" fill="#ecd4b6" stroke-width="3.4"/>
<circle cx="894.7" cy="929.6" r="5.25" fill="#e5845e" stroke-width="3.4"/>
<circle cx="907.7" cy="930.6" r="5.25" fill="#e5845e" stroke-width="3.4"/>
<circle cx="907.7" cy="953" r="5.25" fill="#e5845e" stroke-width="3.4"/>
<circle cx="920.2" cy="954.1" r="5.25" fill="#e5845e" stroke-width="3.4"/>
<circle cx="894.7" cy="960.3" r="5.25" fill="#e5845e" stroke-width="3.4"/>
<circle cx="954.6" cy="894.1" r="5.25" fill="#46293c" stroke-width="3.4"/>
<circle cx="954.6" cy="924.8" r="5.25" fill="#46293c" stroke-width="3.4"/>
<circle cx="941.7" cy="934.8" r="5.25" fill="#46293c" stroke-width="3.4"/>
<circle cx="967.5" cy="945.2" r="5.25" fill="#46293c" stroke-width="3.4"/>
<circle cx="941.7" cy="949.7" r="5.25" fill="#46293c" stroke-width="3.4"/>
<circle cx="989.1" cy="888.1" r="5.25" fill="#264753" stroke-width="3.4"/>
<circle cx="1014.6" cy="896.7" r="5.25" fill="#264753" stroke-width="3.4"/>
<circle cx="989.1" cy="940.7" r="5.25" fill="#264753" stroke-width="3.4"/>
<circle cx="1014.6" cy="945.7" r="5.25" fill="#264753" stroke-width="3.4"/>
<circle cx="1001.7" cy="964.1" r="5.25" fill="#264753" stroke-width="3.4"/>
<circle cx="1036.1" cy="906.5" r="5.25" fill="#ecd4b6" stroke-width="3.4"/>
<circle cx="1049" cy="902" r="5.25" fill="#ecd4b6" stroke-width="3.4"/>
<circle cx="1061.6" cy="908" r="5.25" fill="#ecd4b6" stroke-width="3.4"/>
<circle cx="1055.3" cy="922.4" r="5.25" fill="#ecd4b6" stroke-width="3.4"/>
<circle cx="1042.7" cy="929.3" r="5.25" fill="#ecd4b6" stroke-width="3.4"/>
<circle cx="1089.9" cy="908.9" r="5.25" fill="#e5845e" stroke-width="3.4"/>
<circle cx="1102.8" cy="912.9" r="5.25" fill="#e5845e" stroke-width="3.4"/>
<circle cx="1096" cy="936.8" r="5.25" fill="#e5845e" stroke-width="3.4"/>
<circle cx="1083.4" cy="944.2" r="5.25" fill="#e5845e" stroke-width="3.4"/>
<circle cx="1108.7" cy="940.7" r="5.25" fill="#e5845e" stroke-width="3.4"/>
<line x1="736.6" y1="701.6" x2="736.6" y2="999.9" stroke-width="3.4" stroke-linecap="butt"/>
<line x1="720" y1="998.2" x2="1126.7" y2="998.2" stroke-width="3.4" stroke-linecap="butt"/>
<line x1="720" y1="703.3" x2="736.6" y2="703.3" stroke-width="3.4" stroke-linecap="butt"/>
<line x1="720" y1="777.02" x2="736.6" y2="777.02" stroke-width="3.4" stroke-linecap="butt"/>
<line x1="720" y1="850.75" x2="736.6" y2="850.75" stroke-width="3.4" stroke-linecap="butt"/>
<line x1="720" y1="924.48" x2="736.6" y2="924.48" stroke-width="3.4" stroke-linecap="butt"/>
<line x1="720" y1="998.2" x2="736.6" y2="998.2" stroke-width="3.4" stroke-linecap="butt"/>
<path d="M766 806.7V795.2H813.4V806.7" stroke-width="3.4" fill="none" stroke-linejoin="round"/>
<path d="M768.5 758.8V747.3H860V758.8" stroke-width="3.4" fill="none" stroke-linejoin="round"/>
<path d="M953.9 862.4V850.9H1000.9V862.4" stroke-width="3.4" fill="none" stroke-linejoin="round"/>
<path d="M953.9 813.9V802.4H1049.4V813.9" stroke-width="3.4" fill="none" stroke-linejoin="round"/>
<line x1="750.9" y1="1030.6" x2="916.1" y2="1030.6" stroke-width="3.4" stroke-linecap="butt"/>
<line x1="941.2" y1="1030.6" x2="1107" y2="1030.6" stroke-width="3.4" stroke-linecap="butt"/>
<rect x="1343.8" y="874.2" width="32" height="118.2" fill="#5b4154" stroke-width="3.4" stroke-linejoin="round"/>
<rect x="1391.04" y="917.02" width="32" height="75.38" fill="#556d78" stroke-width="3.4" stroke-linejoin="round"/>
<rect x="1438.28" y="920.23" width="32" height="72.17" fill="#f0dcc4" stroke-width="3.4" stroke-linejoin="round"/>
<rect x="1485.52" y="880.2" width="32" height="112.2" fill="#ea9e7f" stroke-width="3.4" stroke-linejoin="round"/>
<rect x="1532.76" y="872.73" width="32" height="119.67" fill="#5b4154" stroke-width="3.4" stroke-linejoin="round"/>
<rect x="1580" y="876.8" width="32" height="115.6" fill="#556d78" stroke-width="3.4" stroke-linejoin="round"/>
<rect x="1627.24" y="878.6" width="32" height="113.8" fill="#f0dcc4" stroke-width="3.4" stroke-linejoin="round"/>
<rect x="1674.48" y="875.27" width="32" height="117.13" fill="#ea9e7f" stroke-width="3.4" stroke-linejoin="round"/>
<line x1="1359.8" y1="858.58" x2="1359.8" y2="886.42" stroke-width="3.4" stroke-linecap="butt"/>
<line x1="1350.95" y1="858.58" x2="1368.65" y2="858.58" stroke-width="3.4" stroke-linecap="butt"/>
<line x1="1350.95" y1="886.42" x2="1368.65" y2="886.42" stroke-width="3.4" stroke-linecap="butt"/>
<line x1="1407.04" y1="895.81" x2="1407.04" y2="934.84" stroke-width="3.4" stroke-linecap="butt"/>
<line x1="1398.19" y1="895.81" x2="1415.89" y2="895.81" stroke-width="3.4" stroke-linecap="butt"/>
<line x1="1398.19" y1="934.84" x2="1415.89" y2="934.84" stroke-width="3.4" stroke-linecap="butt"/>
<line x1="1454.28" y1="893.79" x2="1454.28" y2="943.26" stroke-width="3.4" stroke-linecap="butt"/>
<line x1="1445.43" y1="893.79" x2="1463.13" y2="893.79" stroke-width="3.4" stroke-linecap="butt"/>
<line x1="1445.43" y1="943.26" x2="1463.13" y2="943.26" stroke-width="3.4" stroke-linecap="butt"/>
<line x1="1501.52" y1="868.5" x2="1501.52" y2="888.5" stroke-width="3.4" stroke-linecap="butt"/>
<line x1="1492.67" y1="868.5" x2="1510.37" y2="868.5" stroke-width="3.4" stroke-linecap="butt"/>
<line x1="1492.67" y1="888.5" x2="1510.37" y2="888.5" stroke-width="3.4" stroke-linecap="butt"/>
<line x1="1548.76" y1="860.03" x2="1548.76" y2="882.02" stroke-width="3.4" stroke-linecap="butt"/>
<line x1="1539.91" y1="860.03" x2="1557.61" y2="860.03" stroke-width="3.4" stroke-linecap="butt"/>
<line x1="1539.91" y1="882.02" x2="1557.61" y2="882.02" stroke-width="3.4" stroke-linecap="butt"/>
<line x1="1596" y1="856.85" x2="1596" y2="893.35" stroke-width="3.4" stroke-linecap="butt"/>
<line x1="1587.15" y1="856.85" x2="1604.85" y2="856.85" stroke-width="3.4" stroke-linecap="butt"/>
<line x1="1587.15" y1="893.35" x2="1604.85" y2="893.35" stroke-width="3.4" stroke-linecap="butt"/>
<line x1="1643.24" y1="856.28" x2="1643.24" y2="897.52" stroke-width="3.4" stroke-linecap="butt"/>
<line x1="1634.39" y1="856.28" x2="1652.09" y2="856.28" stroke-width="3.4" stroke-linecap="butt"/>
<line x1="1634.39" y1="897.52" x2="1652.09" y2="897.52" stroke-width="3.4" stroke-linecap="butt"/>
<line x1="1690.48" y1="856.65" x2="1690.48" y2="890.5" stroke-width="3.4" stroke-linecap="butt"/>
<line x1="1681.63" y1="856.65" x2="1699.33" y2="856.65" stroke-width="3.4" stroke-linecap="butt"/>
<line x1="1681.63" y1="890.5" x2="1699.33" y2="890.5" stroke-width="3.4" stroke-linecap="butt"/>
<circle cx="1359.8" cy="851.8" r="5.25" fill="#46293c" stroke-width="3.4"/>
<circle cx="1359.8" cy="876.2" r="5.25" fill="#46293c" stroke-width="3.4"/>
<circle cx="1372.7" cy="877.7" r="5.25" fill="#46293c" stroke-width="3.4"/>
<circle cx="1346.9" cy="883.1" r="5.25" fill="#46293c" stroke-width="3.4"/>
<circle cx="1407.3" cy="888.6" r="5.25" fill="#264753" stroke-width="3.4"/>
<circle cx="1407.3" cy="912.4" r="5.25" fill="#264753" stroke-width="3.4"/>
<circle cx="1419.9" cy="926.8" r="5.25" fill="#264753" stroke-width="3.4"/>
<circle cx="1394.4" cy="932.3" r="5.25" fill="#264753" stroke-width="3.4"/>
<circle cx="1454.4" cy="883.1" r="5.25" fill="#ecd4b6" stroke-width="3.4"/>
<circle cx="1441.5" cy="924.3" r="5.25" fill="#ecd4b6" stroke-width="3.4"/>
<circle cx="1467.1" cy="924.3" r="5.25" fill="#ecd4b6" stroke-width="3.4"/>
<circle cx="1454.4" cy="941.2" r="5.25" fill="#ecd4b6" stroke-width="3.4"/>
<circle cx="1501.6" cy="865.7" r="5.25" fill="#e5845e" stroke-width="3.4"/>
<circle cx="1488.7" cy="875.9" r="5.25" fill="#e5845e" stroke-width="3.4"/>
<circle cx="1514.5" cy="881.8" r="5.25" fill="#e5845e" stroke-width="3.4"/>
<circle cx="1488.7" cy="889.4" r="5.25" fill="#e5845e" stroke-width="3.4"/>
<circle cx="1561.5" cy="858.6" r="5.25" fill="#46293c" stroke-width="3.4"/>
<circle cx="1535.7" cy="865" r="5.25" fill="#46293c" stroke-width="3.4"/>
<circle cx="1561.5" cy="876.2" r="5.25" fill="#46293c" stroke-width="3.4"/>
<circle cx="1535.7" cy="883.1" r="5.25" fill="#46293c" stroke-width="3.4"/>
<circle cx="1596" cy="852.3" r="5.25" fill="#264753" stroke-width="3.4"/>
<circle cx="1596" cy="867.7" r="5.25" fill="#264753" stroke-width="3.4"/>
<circle cx="1583.4" cy="891.1" r="5.25" fill="#264753" stroke-width="3.4"/>
<circle cx="1608.9" cy="888.1" r="5.25" fill="#264753" stroke-width="3.4"/>
<circle cx="1643.2" cy="852.6" r="5.25" fill="#ecd4b6" stroke-width="3.4"/>
<circle cx="1643.2" cy="868.2" r="5.25" fill="#ecd4b6" stroke-width="3.4"/>
<circle cx="1643.2" cy="885.6" r="5.25" fill="#ecd4b6" stroke-width="3.4"/>
<circle cx="1643.2" cy="900" r="5.25" fill="#ecd4b6" stroke-width="3.4"/>
<circle cx="1677.4" cy="863.6" r="5.25" fill="#e5845e" stroke-width="3.4"/>
<circle cx="1703.3" cy="858.3" r="5.25" fill="#e5845e" stroke-width="3.4"/>
<circle cx="1690.3" cy="874.7" r="5.25" fill="#e5845e" stroke-width="3.4"/>
<circle cx="1690.3" cy="896.5" r="5.25" fill="#e5845e" stroke-width="3.4"/>
<line x1="1330.6" y1="693.5" x2="1330.6" y2="994.1" stroke-width="3.4" stroke-linecap="butt"/>
<line x1="1314" y1="992.4" x2="1721.5" y2="992.4" stroke-width="3.4" stroke-linecap="butt"/>
<line x1="1314" y1="695.2" x2="1330.6" y2="695.2" stroke-width="3.4" stroke-linecap="butt"/>
<line x1="1314" y1="794.27" x2="1330.6" y2="794.27" stroke-width="3.4" stroke-linecap="butt"/>
<line x1="1314" y1="893.33" x2="1330.6" y2="893.33" stroke-width="3.4" stroke-linecap="butt"/>
<line x1="1314" y1="992.4" x2="1330.6" y2="992.4" stroke-width="3.4" stroke-linecap="butt"/>
<path d="M1359.4 839.4V828.5H1410.2V839.4" stroke-width="3.4" fill="none" stroke-linejoin="round"/>
<path d="M1359.4 790.8V779.9H1456.6V790.8" stroke-width="3.4" fill="none" stroke-linejoin="round"/>
<path d="M1547.5 841V829.4H1593.9V841" stroke-width="3.4" fill="none" stroke-linejoin="round"/>
<path d="M1547.5 791.8V780.5H1640V791.8" stroke-width="3.4" fill="none" stroke-linejoin="round"/>
<line x1="1346.3" y1="1025" x2="1512.4" y2="1025" stroke-width="3.4" stroke-linecap="butt"/>
<line x1="1536.6" y1="1025" x2="1701.8" y2="1025" stroke-width="3.4" stroke-linecap="butt"/>
<line x1="1341.1" y1="1102.4" x2="1712.1" y2="1102.4" stroke-width="4.1" stroke-linecap="butt"/>
<line x1="150.6" y1="1175.3" x2="1709.2" y2="1175.3" stroke-width="4.1" stroke-linecap="butt"/>
<circle cx="437.6" cy="1224" r="11.3" fill="#46293c" stroke-width="4.4"/>
<circle cx="720.2" cy="1224" r="11.3" fill="#264753" stroke-width="4.4"/>
<circle cx="1004" cy="1224" r="11.3" fill="#ecd4b6" stroke-width="4.4"/>
<circle cx="1288" cy="1224" r="11.3" fill="#e5845e" stroke-width="4.4"/>
<rect x="168" y="1622.67" width="32.3" height="58.53" fill="#5b4154" stroke-width="3.4" stroke-linejoin="round"/>
<rect x="215.94" y="1580.6" width="32.3" height="100.6" fill="#556d78" stroke-width="3.4" stroke-linejoin="round"/>
<rect x="263.88" y="1566.5" width="32.3" height="114.7" fill="#f0dcc4" stroke-width="3.4" stroke-linejoin="round"/>
<rect x="311.82" y="1619.67" width="32.3" height="61.53" fill="#ea9e7f" stroke-width="3.4" stroke-linejoin="round"/>
<rect x="359.76" y="1621.08" width="32.3" height="60.13" fill="#5b4154" stroke-width="3.4" stroke-linejoin="round"/>
<rect x="407.7" y="1614.25" width="32.3" height="66.95" fill="#556d78" stroke-width="3.4" stroke-linejoin="round"/>
<rect x="455.64" y="1622.28" width="32.3" height="58.92" fill="#f0dcc4" stroke-width="3.4" stroke-linejoin="round"/>
<rect x="503.58" y="1637" width="32.3" height="44.2" fill="#ea9e7f" stroke-width="3.4" stroke-linejoin="round"/>
<line x1="184.15" y1="1605.17" x2="184.15" y2="1636.78" stroke-width="3.4" stroke-linecap="butt"/>
<line x1="175.22" y1="1605.17" x2="193.08" y2="1605.17" stroke-width="3.4" stroke-linecap="butt"/>
<line x1="175.22" y1="1636.78" x2="193.08" y2="1636.78" stroke-width="3.4" stroke-linecap="butt"/>
<line x1="232.09" y1="1555.48" x2="232.09" y2="1602.32" stroke-width="3.4" stroke-linecap="butt"/>
<line x1="223.16" y1="1555.48" x2="241.02" y2="1555.48" stroke-width="3.4" stroke-linecap="butt"/>
<line x1="223.16" y1="1602.32" x2="241.02" y2="1602.32" stroke-width="3.4" stroke-linecap="butt"/>
<line x1="280.03" y1="1537.98" x2="280.03" y2="1591.62" stroke-width="3.4" stroke-linecap="butt"/>
<line x1="271.11" y1="1537.98" x2="288.96" y2="1537.98" stroke-width="3.4" stroke-linecap="butt"/>
<line x1="271.11" y1="1591.62" x2="288.96" y2="1591.62" stroke-width="3.4" stroke-linecap="butt"/>
<line x1="327.97" y1="1587.95" x2="327.97" y2="1648" stroke-width="3.4" stroke-linecap="butt"/>
<line x1="319.05" y1="1587.95" x2="336.9" y2="1587.95" stroke-width="3.4" stroke-linecap="butt"/>
<line x1="319.05" y1="1648" x2="336.9" y2="1648" stroke-width="3.4" stroke-linecap="butt"/>
<line x1="375.91" y1="1592.8" x2="375.91" y2="1645.95" stroke-width="3.4" stroke-linecap="butt"/>
<line x1="366.99" y1="1592.8" x2="384.84" y2="1592.8" stroke-width="3.4" stroke-linecap="butt"/>
<line x1="366.99" y1="1645.95" x2="384.84" y2="1645.95" stroke-width="3.4" stroke-linecap="butt"/>
<line x1="423.85" y1="1561.91" x2="423.85" y2="1663.19" stroke-width="3.4" stroke-linecap="butt"/>
<line x1="414.93" y1="1561.91" x2="432.78" y2="1561.91" stroke-width="3.4" stroke-linecap="butt"/>
<line x1="414.93" y1="1663.19" x2="432.78" y2="1663.19" stroke-width="3.4" stroke-linecap="butt"/>
<line x1="471.79" y1="1595.44" x2="471.79" y2="1645.71" stroke-width="3.4" stroke-linecap="butt"/>
<line x1="462.87" y1="1595.44" x2="480.72" y2="1595.44" stroke-width="3.4" stroke-linecap="butt"/>
<line x1="462.87" y1="1645.71" x2="480.72" y2="1645.71" stroke-width="3.4" stroke-linecap="butt"/>
<line x1="519.73" y1="1616.43" x2="519.73" y2="1654.17" stroke-width="3.4" stroke-linecap="butt"/>
<line x1="510.81" y1="1616.43" x2="528.65" y2="1616.43" stroke-width="3.4" stroke-linecap="butt"/>
<line x1="510.81" y1="1654.17" x2="528.65" y2="1654.17" stroke-width="3.4" stroke-linecap="butt"/>
<circle cx="171.4" cy="1609.9" r="5.25" fill="#46293c" stroke-width="3.4"/>
<circle cx="184.3" cy="1615.8" r="5.25" fill="#46293c" stroke-width="3.4"/>
<circle cx="197.5" cy="1612.9" r="5.25" fill="#46293c" stroke-width="3.4"/>
<circle cx="184.3" cy="1644.1" r="5.25" fill="#46293c" stroke-width="3.4"/>
<circle cx="232.5" cy="1551.6" r="5.25" fill="#264753" stroke-width="3.4"/>
<circle cx="232.5" cy="1566.9" r="5.25" fill="#264753" stroke-width="3.4"/>
<circle cx="245.4" cy="1594" r="5.25" fill="#264753" stroke-width="3.4"/>
<circle cx="219.4" cy="1601.9" r="5.25" fill="#264753" stroke-width="3.4"/>
<circle cx="280.2" cy="1532.9" r="5.25" fill="#ecd4b6" stroke-width="3.4"/>
<circle cx="280.2" cy="1552" r="5.25" fill="#ecd4b6" stroke-width="3.4"/>
<circle cx="293.3" cy="1582.6" r="5.25" fill="#ecd4b6" stroke-width="3.4"/>
<circle cx="267.1" cy="1590.5" r="5.25" fill="#ecd4b6" stroke-width="3.4"/>
<circle cx="328.3" cy="1578.6" r="5.25" fill="#e5845e" stroke-width="3.4"/>
<circle cx="328.3" cy="1613.8" r="5.25" fill="#e5845e" stroke-width="3.4"/>
<circle cx="328.3" cy="1628.2" r="5.25" fill="#e5845e" stroke-width="3.4"/>
<circle cx="328.3" cy="1650.1" r="5.25" fill="#e5845e" stroke-width="3.4"/>
<circle cx="376" cy="1583.2" r="5.25" fill="#46293c" stroke-width="3.4"/>
<circle cx="363" cy="1619.3" r="5.25" fill="#46293c" stroke-width="3.4"/>
<circle cx="388.9" cy="1627" r="5.25" fill="#46293c" stroke-width="3.4"/>
<circle cx="376" cy="1646.8" r="5.25" fill="#46293c" stroke-width="3.4"/>
<circle cx="423.9" cy="1539.9" r="5.25" fill="#264753" stroke-width="3.4"/>
<circle cx="410.9" cy="1623.1" r="5.25" fill="#264753" stroke-width="3.4"/>
<circle cx="436.8" cy="1628" r="5.25" fill="#264753" stroke-width="3.4"/>
<circle cx="423.9" cy="1658" r="5.25" fill="#264753" stroke-width="3.4"/>
<circle cx="472.1" cy="1589.1" r="5.25" fill="#ecd4b6" stroke-width="3.4"/>
<circle cx="458.8" cy="1616.3" r="5.25" fill="#ecd4b6" stroke-width="3.4"/>
<circle cx="485" cy="1625.8" r="5.25" fill="#ecd4b6" stroke-width="3.4"/>
<circle cx="472.1" cy="1649.9" r="5.25" fill="#ecd4b6" stroke-width="3.4"/>
<circle cx="506.9" cy="1620.9" r="5.25" fill="#e5845e" stroke-width="3.4"/>
<circle cx="533.2" cy="1625.4" r="5.25" fill="#e5845e" stroke-width="3.4"/>
<circle cx="519.6" cy="1631.1" r="5.25" fill="#e5845e" stroke-width="3.4"/>
<circle cx="519.6" cy="1662.6" r="5.25" fill="#e5845e" stroke-width="3.4"/>
<line x1="155" y1="1383.5" x2="155" y2="1682.9" stroke-width="3.4" stroke-linecap="butt"/>
<line x1="137.9" y1="1681.2" x2="551.5" y2="1681.2" stroke-width="3.4" stroke-linecap="butt"/>
<line x1="137.9" y1="1385.2" x2="155" y2="1385.2" stroke-width="3.4" stroke-linecap="butt"/>
<line x1="137.9" y1="1459.2" x2="155" y2="1459.2" stroke-width="3.4" stroke-linecap="butt"/>
<line x1="137.9" y1="1533.2" x2="155" y2="1533.2" stroke-width="3.4" stroke-linecap="butt"/>
<line x1="137.9" y1="1607.2" x2="155" y2="1607.2" stroke-width="3.4" stroke-linecap="butt"/>
<line x1="137.9" y1="1681.2" x2="155" y2="1681.2" stroke-width="3.4" stroke-linecap="butt"/>
<path d="M184.2 1495.5V1484.2H237V1495.5" stroke-width="3.4" fill="none" stroke-linejoin="round"/>
<path d="M184.2 1447V1434.8H282.4V1447" stroke-width="3.4" fill="none" stroke-linejoin="round"/>
<path d="M375.2 1495.5V1484.2H423.6V1495.5" stroke-width="3.4" fill="none" stroke-linejoin="round"/>
<path d="M375.2 1446.4V1434.8H469.1V1446.4" stroke-width="3.4" fill="none" stroke-linejoin="round"/>
<line x1="176.4" y1="1713" x2="343.9" y2="1713" stroke-width="3.4" stroke-linecap="butt"/>
<line x1="360" y1="1713" x2="527.9" y2="1713" stroke-width="3.4" stroke-linecap="butt"/>
<rect x="760.1" y="1557" width="32" height="116" fill="#5b4154" stroke-width="3.4" stroke-linejoin="round"/>
<rect x="807.5" y="1590.25" width="32" height="82.75" fill="#556d78" stroke-width="3.4" stroke-linejoin="round"/>
<rect x="854.9" y="1581.05" width="32" height="91.95" fill="#f0dcc4" stroke-width="3.4" stroke-linejoin="round"/>
<rect x="902.3" y="1557.55" width="32" height="115.45" fill="#ea9e7f" stroke-width="3.4" stroke-linejoin="round"/>
<rect x="949.7" y="1557.45" width="32" height="115.55" fill="#5b4154" stroke-width="3.4" stroke-linejoin="round"/>
<rect x="997.1" y="1559.7" width="32" height="113.3" fill="#556d78" stroke-width="3.4" stroke-linejoin="round"/>
<rect x="1044.5" y="1552.88" width="32" height="120.13" fill="#f0dcc4" stroke-width="3.4" stroke-linejoin="round"/>
<rect x="1091.9" y="1560.62" width="32" height="112.38" fill="#ea9e7f" stroke-width="3.4" stroke-linejoin="round"/>
<line x1="776.1" y1="1548.54" x2="776.1" y2="1562.06" stroke-width="3.4" stroke-linecap="butt"/>
<line x1="767.25" y1="1548.54" x2="784.95" y2="1548.54" stroke-width="3.4" stroke-linecap="butt"/>
<line x1="767.25" y1="1562.06" x2="784.95" y2="1562.06" stroke-width="3.4" stroke-linecap="butt"/>
<line x1="823.5" y1="1584.23" x2="823.5" y2="1592.87" stroke-width="3.4" stroke-linecap="butt"/>
<line x1="814.65" y1="1584.23" x2="832.35" y2="1584.23" stroke-width="3.4" stroke-linecap="butt"/>
<line x1="814.65" y1="1592.87" x2="832.35" y2="1592.87" stroke-width="3.4" stroke-linecap="butt"/>
<line x1="870.9" y1="1575.1" x2="870.9" y2="1583.6" stroke-width="3.4" stroke-linecap="butt"/>
<line x1="862.05" y1="1575.1" x2="879.75" y2="1575.1" stroke-width="3.4" stroke-linecap="butt"/>
<line x1="862.05" y1="1583.6" x2="879.75" y2="1583.6" stroke-width="3.4" stroke-linecap="butt"/>
<line x1="918.3" y1="1548.34" x2="918.3" y2="1563.36" stroke-width="3.4" stroke-linecap="butt"/>
<line x1="909.45" y1="1548.34" x2="927.15" y2="1548.34" stroke-width="3.4" stroke-linecap="butt"/>
<line x1="909.45" y1="1563.36" x2="927.15" y2="1563.36" stroke-width="3.4" stroke-linecap="butt"/>
<line x1="965.7" y1="1547.56" x2="965.7" y2="1563.94" stroke-width="3.4" stroke-linecap="butt"/>
<line x1="956.85" y1="1547.56" x2="974.55" y2="1547.56" stroke-width="3.4" stroke-linecap="butt"/>
<line x1="956.85" y1="1563.94" x2="974.55" y2="1563.94" stroke-width="3.4" stroke-linecap="butt"/>
<line x1="1013.1" y1="1545.53" x2="1013.1" y2="1570.47" stroke-width="3.4" stroke-linecap="butt"/>
<line x1="1004.25" y1="1545.53" x2="1021.95" y2="1545.53" stroke-width="3.4" stroke-linecap="butt"/>
<line x1="1004.25" y1="1570.47" x2="1021.95" y2="1570.47" stroke-width="3.4" stroke-linecap="butt"/>
<line x1="1060.5" y1="1547.7" x2="1060.5" y2="1554.65" stroke-width="3.4" stroke-linecap="butt"/>
<line x1="1051.65" y1="1547.7" x2="1069.35" y2="1547.7" stroke-width="3.4" stroke-linecap="butt"/>
<line x1="1051.65" y1="1554.65" x2="1069.35" y2="1554.65" stroke-width="3.4" stroke-linecap="butt"/>
<line x1="1107.9" y1="1535.02" x2="1107.9" y2="1582.83" stroke-width="3.4" stroke-linecap="butt"/>
<line x1="1099.05" y1="1535.02" x2="1116.75" y2="1535.02" stroke-width="3.4" stroke-linecap="butt"/>
<line x1="1099.05" y1="1582.83" x2="1116.75" y2="1582.83" stroke-width="3.4" stroke-linecap="butt"/>
<circle cx="763.4" cy="1561.2" r="5.25" fill="#46293c" stroke-width="3.4"/>
<circle cx="776.3" cy="1555" r="5.25" fill="#46293c" stroke-width="3.4"/>
<circle cx="789.2" cy="1545.6" r="5.25" fill="#46293c" stroke-width="3.4"/>
<circle cx="789.2" cy="1558.2" r="5.25" fill="#46293c" stroke-width="3.4"/>
<circle cx="810.8" cy="1592.3" r="5.25" fill="#264753" stroke-width="3.4"/>
<circle cx="819.3" cy="1583.1" r="5.25" fill="#264753" stroke-width="3.4"/>
<circle cx="827.7" cy="1591.3" r="5.25" fill="#264753" stroke-width="3.4"/>
<circle cx="836.4" cy="1586.3" r="5.25" fill="#264753" stroke-width="3.4"/>
<circle cx="858" cy="1584.6" r="5.25" fill="#ecd4b6" stroke-width="3.4"/>
<circle cx="866.4" cy="1574.4" r="5.25" fill="#ecd4b6" stroke-width="3.4"/>
<circle cx="875.3" cy="1579.4" r="5.25" fill="#ecd4b6" stroke-width="3.4"/>
<circle cx="884.1" cy="1577.8" r="5.25" fill="#ecd4b6" stroke-width="3.4"/>
<circle cx="905.4" cy="1552.8" r="5.25" fill="#e5845e" stroke-width="3.4"/>
<circle cx="905.4" cy="1564.7" r="5.25" fill="#e5845e" stroke-width="3.4"/>
<circle cx="931.2" cy="1547" r="5.25" fill="#e5845e" stroke-width="3.4"/>
<circle cx="931.2" cy="1557.7" r="5.25" fill="#e5845e" stroke-width="3.4"/>
<circle cx="952.7" cy="1549.8" r="5.25" fill="#46293c" stroke-width="3.4"/>
<circle cx="965.6" cy="1552.7" r="5.25" fill="#46293c" stroke-width="3.4"/>
<circle cx="978.5" cy="1551.7" r="5.25" fill="#46293c" stroke-width="3.4"/>
<circle cx="965.6" cy="1567.6" r="5.25" fill="#46293c" stroke-width="3.4"/>
<circle cx="1013" cy="1544.3" r="5.25" fill="#264753" stroke-width="3.4"/>
<circle cx="1000.1" cy="1554.9" r="5.25" fill="#264753" stroke-width="3.4"/>
<circle cx="1025.6" cy="1557.2" r="5.25" fill="#264753" stroke-width="3.4"/>
<circle cx="1013" cy="1574.4" r="5.25" fill="#264753" stroke-width="3.4"/>
<circle cx="1047.4" cy="1553.9" r="5.25" fill="#ecd4b6" stroke-width="3.4"/>
<circle cx="1056" cy="1546" r="5.25" fill="#ecd4b6" stroke-width="3.4"/>
<circle cx="1064.3" cy="1552.7" r="5.25" fill="#ecd4b6" stroke-width="3.4"/>
<circle cx="1073.1" cy="1550.9" r="5.25" fill="#ecd4b6" stroke-width="3.4"/>
<circle cx="1107.6" cy="1527.4" r="5.25" fill="#e5845e" stroke-width="3.4"/>
<circle cx="1107.6" cy="1555.7" r="5.25" fill="#e5845e" stroke-width="3.4"/>
<circle cx="1107.6" cy="1567.1" r="5.25" fill="#e5845e" stroke-width="3.4"/>
<circle cx="1107.6" cy="1584.3" r="5.25" fill="#e5845e" stroke-width="3.4"/>
<line x1="746.6" y1="1374.4" x2="746.6" y2="1674.7" stroke-width="3.4" stroke-linecap="butt"/>
<line x1="730" y1="1673" x2="1139.1" y2="1673" stroke-width="3.4" stroke-linecap="butt"/>
<line x1="730" y1="1376.1" x2="746.6" y2="1376.1" stroke-width="3.4" stroke-linecap="butt"/>
<line x1="730" y1="1475.07" x2="746.6" y2="1475.07" stroke-width="3.4" stroke-linecap="butt"/>
<line x1="730" y1="1574.03" x2="746.6" y2="1574.03" stroke-width="3.4" stroke-linecap="butt"/>
<line x1="730" y1="1673" x2="746.6" y2="1673" stroke-width="3.4" stroke-linecap="butt"/>
<path d="M773.6 1513.6V1502.4H827.6V1513.6" stroke-width="3.4" fill="none" stroke-linejoin="round"/>
<path d="M773.6 1465.2V1453H871.5V1465.2" stroke-width="3.4" fill="none" stroke-linejoin="round"/>
<path d="M962.4 1513.6V1502.4H1010.9V1513.6" stroke-width="3.4" fill="none" stroke-linejoin="round"/>
<path d="M962.4 1463.9V1452.4H1055.5V1463.9" stroke-width="3.4" fill="none" stroke-linejoin="round"/>
<line x1="767.6" y1="1705.5" x2="933.6" y2="1705.5" stroke-width="3.4" stroke-linecap="butt"/>
<line x1="949.4" y1="1705.5" x2="1116.1" y2="1705.5" stroke-width="3.4" stroke-linecap="butt"/>
<rect x="1345.5" y="1624.42" width="32.2" height="47.67" fill="#5b4154" stroke-width="3.4" stroke-linejoin="round"/>
<rect x="1392.8" y="1550.57" width="32.2" height="121.53" fill="#556d78" stroke-width="3.4" stroke-linejoin="round"/>
<rect x="1440.1" y="1547.25" width="32.2" height="124.85" fill="#f0dcc4" stroke-width="3.4" stroke-linejoin="round"/>
<rect x="1487.4" y="1628.53" width="32.2" height="43.57" fill="#ea9e7f" stroke-width="3.4" stroke-linejoin="round"/>
<rect x="1534.7" y="1605.43" width="32.2" height="66.67" fill="#5b4154" stroke-width="3.4" stroke-linejoin="round"/>
<rect x="1582" y="1623.07" width="32.2" height="49.03" fill="#556d78" stroke-width="3.4" stroke-linejoin="round"/>
<rect x="1629.3" y="1617.88" width="32.2" height="54.22" fill="#f0dcc4" stroke-width="3.4" stroke-linejoin="round"/>
<rect x="1676.6" y="1605.75" width="32.2" height="66.35" fill="#ea9e7f" stroke-width="3.4" stroke-linejoin="round"/>
<line x1="1361.6" y1="1605" x2="1361.6" y2="1640.45" stroke-width="3.4" stroke-linecap="butt"/>
<line x1="1352.7" y1="1605" x2="1370.5" y2="1605" stroke-width="3.4" stroke-linecap="butt"/>
<line x1="1352.7" y1="1640.45" x2="1370.5" y2="1640.45" stroke-width="3.4" stroke-linecap="butt"/>
<line x1="1408.9" y1="1528.84" x2="1408.9" y2="1568.91" stroke-width="3.4" stroke-linecap="butt"/>
<line x1="1400" y1="1528.84" x2="1417.8" y2="1528.84" stroke-width="3.4" stroke-linecap="butt"/>
<line x1="1400" y1="1568.91" x2="1417.8" y2="1568.91" stroke-width="3.4" stroke-linecap="butt"/>
<line x1="1456.2" y1="1516.14" x2="1456.2" y2="1574.96" stroke-width="3.4" stroke-linecap="butt"/>
<line x1="1447.3" y1="1516.14" x2="1465.1" y2="1516.14" stroke-width="3.4" stroke-linecap="butt"/>
<line x1="1447.3" y1="1574.96" x2="1465.1" y2="1574.96" stroke-width="3.4" stroke-linecap="butt"/>
<line x1="1503.5" y1="1600.02" x2="1503.5" y2="1653.63" stroke-width="3.4" stroke-linecap="butt"/>
<line x1="1494.6" y1="1600.02" x2="1512.4" y2="1600.02" stroke-width="3.4" stroke-linecap="butt"/>
<line x1="1494.6" y1="1653.63" x2="1512.4" y2="1653.63" stroke-width="3.4" stroke-linecap="butt"/>
<line x1="1550.8" y1="1565.91" x2="1550.8" y2="1641.54" stroke-width="3.4" stroke-linecap="butt"/>
<line x1="1541.9" y1="1565.91" x2="1559.7" y2="1565.91" stroke-width="3.4" stroke-linecap="butt"/>
<line x1="1541.9" y1="1641.54" x2="1559.7" y2="1641.54" stroke-width="3.4" stroke-linecap="butt"/>
<line x1="1598.1" y1="1584.32" x2="1598.1" y2="1658.43" stroke-width="3.4" stroke-linecap="butt"/>
<line x1="1589.2" y1="1584.32" x2="1607" y2="1584.32" stroke-width="3.4" stroke-linecap="butt"/>
<line x1="1589.2" y1="1658.43" x2="1607" y2="1658.43" stroke-width="3.4" stroke-linecap="butt"/>
<line x1="1645.4" y1="1592.9" x2="1645.4" y2="1639.45" stroke-width="3.4" stroke-linecap="butt"/>
<line x1="1636.5" y1="1592.9" x2="1654.3" y2="1592.9" stroke-width="3.4" stroke-linecap="butt"/>
<line x1="1636.5" y1="1639.45" x2="1654.3" y2="1639.45" stroke-width="3.4" stroke-linecap="butt"/>
<line x1="1692.7" y1="1562.09" x2="1692.7" y2="1646.01" stroke-width="3.4" stroke-linecap="butt"/>
<line x1="1683.8" y1="1562.09" x2="1701.6" y2="1562.09" stroke-width="3.4" stroke-linecap="butt"/>
<line x1="1683.8" y1="1646.01" x2="1701.6" y2="1646.01" stroke-width="3.4" stroke-linecap="butt"/>
<circle cx="1361.4" cy="1603.8" r="5.25" fill="#46293c" stroke-width="3.4"/>
<circle cx="1348.4" cy="1616.2" r="5.25" fill="#46293c" stroke-width="3.4"/>
<circle cx="1374.3" cy="1623.7" r="5.25" fill="#46293c" stroke-width="3.4"/>
<circle cx="1361.4" cy="1646" r="5.25" fill="#46293c" stroke-width="3.4"/>
<circle cx="1395.8" cy="1535.3" r="5.25" fill="#264753" stroke-width="3.4"/>
<circle cx="1421.6" cy="1527.6" r="5.25" fill="#264753" stroke-width="3.4"/>
<circle cx="1395.8" cy="1566.6" r="5.25" fill="#264753" stroke-width="3.4"/>
<circle cx="1421.6" cy="1564.8" r="5.25" fill="#264753" stroke-width="3.4"/>
<circle cx="1456.2" cy="1519.4" r="5.25" fill="#ecd4b6" stroke-width="3.4"/>
<circle cx="1456.2" cy="1530" r="5.25" fill="#ecd4b6" stroke-width="3.4"/>
<circle cx="1456.2" cy="1545.2" r="5.25" fill="#ecd4b6" stroke-width="3.4"/>
<circle cx="1456.2" cy="1586.4" r="5.25" fill="#ecd4b6" stroke-width="3.4"/>
<circle cx="1503.4" cy="1588.9" r="5.25" fill="#e5845e" stroke-width="3.4"/>
<circle cx="1503.4" cy="1625.7" r="5.25" fill="#e5845e" stroke-width="3.4"/>
<circle cx="1490.4" cy="1646" r="5.25" fill="#e5845e" stroke-width="3.4"/>
<circle cx="1516.3" cy="1645.5" r="5.25" fill="#e5845e" stroke-width="3.4"/>
<circle cx="1551.6" cy="1563.3" r="5.25" fill="#46293c" stroke-width="3.4"/>
<circle cx="1551.6" cy="1579" r="5.25" fill="#46293c" stroke-width="3.4"/>
<circle cx="1537.5" cy="1636" r="5.25" fill="#46293c" stroke-width="3.4"/>
<circle cx="1564.2" cy="1635.4" r="5.25" fill="#46293c" stroke-width="3.4"/>
<circle cx="1597.7" cy="1569.6" r="5.25" fill="#264753" stroke-width="3.4"/>
<circle cx="1597.7" cy="1618.8" r="5.25" fill="#264753" stroke-width="3.4"/>
<circle cx="1584.5" cy="1651.1" r="5.25" fill="#264753" stroke-width="3.4"/>
<circle cx="1611.2" cy="1644.8" r="5.25" fill="#264753" stroke-width="3.4"/>
<circle cx="1645.7" cy="1589" r="5.25" fill="#ecd4b6" stroke-width="3.4"/>
<circle cx="1645.7" cy="1604" r="5.25" fill="#ecd4b6" stroke-width="3.4"/>
<circle cx="1632.2" cy="1637.6" r="5.25" fill="#ecd4b6" stroke-width="3.4"/>
<circle cx="1658.2" cy="1632.9" r="5.25" fill="#ecd4b6" stroke-width="3.4"/>
<circle cx="1692.7" cy="1554.5" r="5.25" fill="#e5845e" stroke-width="3.4"/>
<circle cx="1692.7" cy="1583.4" r="5.25" fill="#e5845e" stroke-width="3.4"/>
<circle cx="1679.2" cy="1641.7" r="5.25" fill="#e5845e" stroke-width="3.4"/>
<circle cx="1706.2" cy="1635.4" r="5.25" fill="#e5845e" stroke-width="3.4"/>
<line x1="1331.8" y1="1374.1" x2="1331.8" y2="1673.8" stroke-width="3.4" stroke-linecap="butt"/>
<line x1="1315" y1="1672.1" x2="1724" y2="1672.1" stroke-width="3.4" stroke-linecap="butt"/>
<line x1="1315" y1="1375.8" x2="1331.8" y2="1375.8" stroke-width="3.4" stroke-linecap="butt"/>
<line x1="1315" y1="1474.57" x2="1331.8" y2="1474.57" stroke-width="3.4" stroke-linecap="butt"/>
<line x1="1315" y1="1573.33" x2="1331.8" y2="1573.33" stroke-width="3.4" stroke-linecap="butt"/>
<line x1="1315" y1="1672.1" x2="1331.8" y2="1672.1" stroke-width="3.4" stroke-linecap="butt"/>
<path d="M1362.6 1489.3V1477.7H1409V1489.3" stroke-width="3.4" fill="none" stroke-linejoin="round"/>
<path d="M1362.6 1440.1V1428.5H1456.6V1440.1" stroke-width="3.4" fill="none" stroke-linejoin="round"/>
<path d="M1551.6 1535.1V1523.8H1598.7V1535.1" stroke-width="3.4" fill="none" stroke-linejoin="round"/>
<path d="M1551.6 1488.1V1476.1H1646.6V1488.1" stroke-width="3.4" fill="none" stroke-linejoin="round"/>
<line x1="1354.1" y1="1703.4" x2="1519.3" y2="1703.4" stroke-width="3.4" stroke-linecap="butt"/>
<line x1="1536" y1="1703.4" x2="1701.2" y2="1703.4" stroke-width="3.4" stroke-linecap="butt"/>
<line x1="161" y1="1852.8" x2="1709" y2="1852.8" stroke-width="4.1" stroke-linecap="butt"/>
<circle cx="438" cy="1897.8" r="11.3" fill="#46293c" stroke-width="4.4"/>
<circle cx="721.7" cy="1897.8" r="11.3" fill="#264753" stroke-width="4.4"/>
<circle cx="1004.5" cy="1897.8" r="11.3" fill="#ecd4b6" stroke-width="4.4"/>
<circle cx="1288.3" cy="1897.8" r="11.3" fill="#e5845e" stroke-width="4.4"/>
<g stroke="none">
<text x="85.38" y="102.79" font-size="33.2">6.5</text>
<text x="85.3" y="146.94" font-size="33.2">6.0</text>
<text x="85.38" y="191.1" font-size="33.2">5.5</text>
<text x="85.3" y="235.26" font-size="33.2">5.0</text>
<text x="85.38" y="279.42" font-size="33.2">4.5</text>
<text x="85.3" y="323.57" font-size="33.2">4.0</text>
<text x="85.38" y="367.73" font-size="33.2">3.5</text>
<text x="85.3" y="411.89" font-size="33.2">3.0</text>
<text transform="translate(188.93 226.5) scale(1 1.07)" font-size="36.3" font-weight="bold" font-family="DejaVu Sans, sans-serif" stroke="#000" stroke-width="0.5" letter-spacing="4.22">**</text>
<text transform="translate(191.33 176.3) scale(1 1.07)" font-size="36.3" font-weight="bold" font-family="DejaVu Sans, sans-serif" stroke="#000" stroke-width="0.5" letter-spacing="4.22">****</text>
<text transform="translate(256.13 122.6) scale(1 1.07)" font-size="36.3" font-weight="bold" font-family="DejaVu Sans, sans-serif" stroke="#000" stroke-width="0.5" letter-spacing="4.22">***</text>
<text x="248.35" y="72.8" font-size="33.28">BMDMs</text>
<text x="19.44" y="36.2" font-size="52" font-weight="bold">a</text>
<text transform="translate(24 365.16) rotate(-90)" font-size="33.22"><tspan>Log</tspan><tspan font-size="23.92" dy="7.47">10</tspan><tspan dy="-7.47">(MNV RNA</tspan></text>
<text transform="translate(68 313.31) rotate(-90)" font-size="32.67"><tspan>copies/μL)</tspan></text>
<text x="563.04" y="94.14" font-size="32.5">20</text>
<text x="563.12" y="172.82" font-size="32.5">15</text>
<text x="563.04" y="251.49" font-size="32.5">10</text>
<text x="581.16" y="330.17" font-size="32.5">5</text>
<text x="581.08" y="408.84" font-size="32.5">0</text>
<text transform="translate(645.43 226.5) scale(1 1.07)" font-size="36.3" font-weight="bold" font-family="DejaVu Sans, sans-serif" stroke="#000" stroke-width="0.5" letter-spacing="4.22">***</text>
<text transform="translate(693.73 176.3) scale(1 1.07)" font-size="36.3" font-weight="bold" font-family="DejaVu Sans, sans-serif" stroke="#000" stroke-width="0.5" letter-spacing="4.22">*</text>
<text transform="translate(720.73 122.4) scale(1 1.07)" font-size="36.3" font-weight="bold" font-family="DejaVu Sans, sans-serif" stroke="#000" stroke-width="0.5" letter-spacing="4.22">***</text>
<text x="718.03" y="68.2" font-size="33.54">BMDMs</text>
<text x="511.62" y="40" font-size="52" font-weight="bold">b</text>
<text transform="translate(516.1 333.65) rotate(-90)" font-size="33.12"><tspan>Relative </tspan><tspan font-style="italic">Ifnb</tspan></text>
<text transform="translate(553.7 364.55) rotate(-90)" font-size="33.13"><tspan>levels over mock</tspan></text>
<text x="1075.99" y="91.22" font-size="33">6</text>
<text x="1075.91" y="196.05" font-size="33">5</text>
<text x="1075.49" y="300.88" font-size="33">4</text>
<text x="1075.99" y="405.72" font-size="33">3</text>
<text transform="translate(1163.73 221.5) scale(1 1.07)" font-size="36.3" font-weight="bold" font-family="DejaVu Sans, sans-serif" stroke="#000" stroke-width="0.5" letter-spacing="4.22">*</text>
<text transform="translate(1188.73 169.8) scale(1 1.07)" font-size="36.3" font-weight="bold" font-family="DejaVu Sans, sans-serif" stroke="#000" stroke-width="0.5" letter-spacing="4.22">*</text>
<text transform="translate(1238.93 118.6) scale(1 1.07)" font-size="36.3" font-weight="bold" font-family="DejaVu Sans, sans-serif" stroke="#000" stroke-width="0.5" letter-spacing="4.22">*</text>
<text x="1144.01" y="62.7" font-size="33.79">PP macrophages</text>
<text x="969.22" y="30" font-size="52" font-weight="bold">c</text>
<text transform="translate(1002.9 361.5) rotate(-90)" font-size="33.7"><tspan>Log</tspan><tspan font-size="24.26" dy="7.58">10</tspan><tspan dy="-7.58">(MNV RNA</tspan></text>
<text transform="translate(1048 319.97) rotate(-90)" font-size="34.13"><tspan>copies/mg)</tspan></text>
<text x="1537.81" y="93.82" font-size="33">10</text>
<text x="1556.29" y="156.1" font-size="33">8</text>
<text x="1556.29" y="218.38" font-size="33">6</text>
<text x="1555.79" y="280.66" font-size="33">4</text>
<text x="1556.54" y="342.94" font-size="33">2</text>
<text x="1556.12" y="405.22" font-size="33">0</text>
<text transform="translate(1643.23 224) scale(1 1.07)" font-size="36.3" font-weight="bold" font-family="DejaVu Sans, sans-serif" stroke="#000" stroke-width="0.5" letter-spacing="4.22">*</text>
<text transform="translate(1669.03 172.6) scale(1 1.07)" font-size="36.3" font-weight="bold" font-family="DejaVu Sans, sans-serif" stroke="#000" stroke-width="0.5" letter-spacing="4.22">*</text>
<text transform="translate(1708.93 121.1) scale(1 1.07)" font-size="36.3" font-weight="bold" font-family="DejaVu Sans, sans-serif" stroke="#000" stroke-width="0.5" letter-spacing="4.22">**</text>
<text x="1622.96" y="66.5" font-size="34.45">PP macrophages</text>
<text x="1499.62" y="37.6" font-size="52" font-weight="bold">d</text>
<text transform="translate(1490.1 328.6) rotate(-90)" font-size="32.44"><tspan>Relative </tspan><tspan font-style="italic">Ifnb</tspan></text>
<text transform="translate(1529 357.04) rotate(-90)" font-size="32.97"><tspan>levels over mock</tspan></text>
<text x="1397.53" y="481.5" font-size="34.89">Vancomycin</text>
<text x="372.02" y="563.9" font-size="36.4">Vehicle</text>
<text x="598.91" y="563.9" font-size="36.4">Acetate</text>
<text x="822.7" y="563.9" font-size="36.4">Propionate</text>
<text x="1106.5" y="563.9" font-size="36.4">Butyrate</text>
<text x="1333.58" y="563.9" font-size="36.4">4-CMTB</text>
<text x="1561.11" y="563.9" font-size="36.4">AR420626</text>
<text x="91.79" y="716.38" font-size="30.6">5.5</text>
<text x="91.79" y="814.58" font-size="30.6">4.5</text>
<text x="91.79" y="912.78" font-size="30.6">3.5</text>
<text x="91.79" y="1010.98" font-size="30.6">2.5</text>
<text transform="translate(199.43 802.9) scale(1 1.09)" font-size="34" font-weight="bold" font-family="DejaVu Sans, sans-serif" stroke="#000" stroke-width="0.5" letter-spacing="3.92">*</text>
<text transform="translate(224.63 754.6) scale(1 1.09)" font-size="34" font-weight="bold" font-family="DejaVu Sans, sans-serif" stroke="#000" stroke-width="0.5" letter-spacing="3.92">*</text>
<text x="378.73" y="778" font-size="32.5">ns</text>
<text x="402.88" y="730.6" font-size="32.5">ns</text>
<text x="294.59" y="692.3" font-size="31.59">BMDMs</text>
<text x="19.82" y="665.3" font-size="52" font-weight="bold">e</text>
<text transform="translate(31.9 972.43) rotate(-90)" font-size="31.57"><tspan>Log</tspan><tspan font-size="22.73" dy="7.1">10</tspan><tspan dy="-7.1">(MNV RNA</tspan></text>
<text transform="translate(73.6 927.75) rotate(-90)" font-size="31.17"><tspan>copies/μL)</tspan></text>
<text x="230.96" y="1071.1" font-size="31.6">WT</text>
<text x="391.32" y="1072.3" font-size="31.5" font-style="italic">Gpr43<tspan font-size="21.42" dy="-14.18">-/-</tspan></text>
<text x="682" y="713.87" font-size="30.3">20</text>
<text x="682.08" y="787.6" font-size="30.3">15</text>
<text x="682" y="861.32" font-size="30.3">10</text>
<text x="698.9" y="935.05" font-size="30.3">5</text>
<text x="698.82" y="1008.77" font-size="30.3">0</text>
<text transform="translate(781.63 793) scale(1 1.09)" font-size="34" font-weight="bold" font-family="DejaVu Sans, sans-serif" stroke="#000" stroke-width="0.5" letter-spacing="3.92">*</text>
<text transform="translate(805.63 745.5) scale(1 1.09)" font-size="34" font-weight="bold" font-family="DejaVu Sans, sans-serif" stroke="#000" stroke-width="0.5" letter-spacing="3.92">*</text>
<text x="960.78" y="835.8" font-size="32.5">ns</text>
<text x="984.48" y="787.3" font-size="32.5">ns</text>
<text x="875.58" y="688.2" font-size="31.74">BMDMs</text>
<text x="583.29" y="667" font-size="52" font-weight="bold">f</text>
<text transform="translate(621.8 922.49) rotate(-90)" font-size="31.14"><tspan>Relative </tspan><tspan font-style="italic">Ifnb</tspan></text>
<text transform="translate(656.7 959.93) rotate(-90)" font-size="31.21"><tspan>levels over mock</tspan></text>
<text x="812.86" y="1069.4" font-size="31.6">WT</text>
<text x="973.12" y="1070.5" font-size="31.5" font-style="italic">Gpr43<tspan font-size="21.42" dy="-14.18">-/-</tspan></text>
<text x="1293.67" y="705.84" font-size="30.5">8</text>
<text x="1293.67" y="804.91" font-size="30.5">6</text>
<text x="1293.21" y="903.98" font-size="30.5">4</text>
<text x="1293.9" y="1003.04" font-size="30.5">2</text>
<text transform="translate(1377.23 827.2) scale(1 1.09)" font-size="34" font-weight="bold" font-family="DejaVu Sans, sans-serif" stroke="#000" stroke-width="0.5" letter-spacing="3.92">*</text>
<text transform="translate(1400.13 777.6) scale(1 1.09)" font-size="34" font-weight="bold" font-family="DejaVu Sans, sans-serif" stroke="#000" stroke-width="0.5" letter-spacing="3.92">*</text>
<text x="1553.83" y="814.4" font-size="32.5">ns</text>
<text x="1576.88" y="765.8" font-size="32.5">ns</text>
<text x="1403.18" y="679.6" font-size="31.71">PP macrophages</text>
<text x="1129.82" y="668.1" font-size="52" font-weight="bold">g</text>
<text transform="translate(1222.1 962.45) rotate(-90)" font-size="31.83"><tspan>Log</tspan><tspan font-size="22.92" dy="7.16">10</tspan><tspan dy="-7.16">(MNV RNA</tspan></text>
<text transform="translate(1264.4 922.18) rotate(-90)" font-size="32.07"><tspan>copies/mg)</tspan></text>
<text x="1406.21" y="1065.1" font-size="31.6">WT</text>
<text x="1567.83" y="1065.8" font-size="31.5" font-style="italic">Gpr43<tspan font-size="21.42" dy="-14.18">-/-</tspan></text>
<text x="1434.53" y="1146.6" font-size="34.57">Vancomycin</text>
<text x="470.32" y="1237.6" font-size="36.6">Vehicle</text>
<text x="753.51" y="1237.6" font-size="36.6">Acetate</text>
<text x="1035.68" y="1237.6" font-size="36.6">Propionate</text>
<text x="1318.08" y="1237.6" font-size="36.6">Butyrate</text>
<text x="117.41" y="1396.02" font-size="31">8</text>
<text x="117.41" y="1470.02" font-size="31">6</text>
<text x="116.95" y="1544.02" font-size="31">4</text>
<text x="117.65" y="1618.02" font-size="31">2</text>
<text x="117.26" y="1692.02" font-size="31">0</text>
<text transform="translate(202.63 1480.9) scale(1 1.09)" font-size="34" font-weight="bold" font-family="DejaVu Sans, sans-serif" stroke="#000" stroke-width="0.5" letter-spacing="3.92">*</text>
<text transform="translate(224.43 1433) scale(1 1.09)" font-size="34" font-weight="bold" font-family="DejaVu Sans, sans-serif" stroke="#000" stroke-width="0.5" letter-spacing="3.92">*</text>
<text x="382.03" y="1470" font-size="32.5">ns</text>
<text x="404.63" y="1419.7" font-size="32.5">ns</text>
<text x="229.16" y="1370.6" font-size="32.05">PP macrophages</text>
<text x="22.16" y="1366.1" font-size="52" font-weight="bold">h</text>
<text transform="translate(52.7 1606.41) rotate(-90)" font-size="31.41"><tspan>Relative </tspan><tspan font-style="italic">Ifnb</tspan></text>
<text transform="translate(89.1 1643.85) rotate(-90)" font-size="31.61"><tspan>levels over mock</tspan></text>
<text x="237.66" y="1754.1" font-size="31.6">WT</text>
<text x="389.82" y="1755.1" font-size="31.5" font-style="italic">Gpr43<tspan font-size="21.42" dy="-14.18">-/-</tspan></text>
<text x="709.57" y="1386.74" font-size="30.5">8</text>
<text x="709.57" y="1485.71" font-size="30.5">6</text>
<text x="709.11" y="1584.68" font-size="30.5">4</text>
<text x="709.8" y="1683.64" font-size="30.5">2</text>
<text transform="translate(771.43 1500) scale(1 1.09)" font-size="34" font-weight="bold" font-family="DejaVu Sans, sans-serif" stroke="#000" stroke-width="0.5" letter-spacing="3.92">***</text>
<text transform="translate(793.93 1451.2) scale(1 1.09)" font-size="34" font-weight="bold" font-family="DejaVu Sans, sans-serif" stroke="#000" stroke-width="0.5" letter-spacing="3.92">***</text>
<text x="969.73" y="1487.3" font-size="32.5">ns</text>
<text x="991.38" y="1438.8" font-size="32.5">ns</text>
<text x="893.38" y="1363.9" font-size="31.58">Spleen</text>
<text x="583.96" y="1366.1" font-size="52" font-weight="bold">i</text>
<text transform="translate(640 1656.36) rotate(-90)" font-size="31.99"><tspan>Log</tspan><tspan font-size="23.03" dy="7.2">10</tspan><tspan dy="-7.2">(EMCV RNA</tspan></text>
<text transform="translate(682.6 1604.89) rotate(-90)" font-size="32.19"><tspan>copies/mg)</tspan></text>
<text x="823.81" y="1748.4" font-size="31.6">WT</text>
<text x="978.42" y="1749.8" font-size="31.5" font-style="italic">Gpr43<tspan font-size="21.42" dy="-14.18">-/-</tspan></text>
<text x="1278.03" y="1386.62" font-size="31">15</text>
<text x="1277.95" y="1485.39" font-size="31">10</text>
<text x="1295.24" y="1584.15" font-size="31">5</text>
<text x="1295.16" y="1682.92" font-size="31">0</text>
<text transform="translate(1367.33 1474.5) scale(1 1.09)" font-size="34" font-weight="bold" font-family="DejaVu Sans, sans-serif" stroke="#000" stroke-width="0.5" letter-spacing="3.92">**</text>
<text transform="translate(1391.33 1425.3) scale(1 1.09)" font-size="34" font-weight="bold" font-family="DejaVu Sans, sans-serif" stroke="#000" stroke-width="0.5" letter-spacing="3.92">**</text>
<text x="1558.08" y="1510" font-size="32.5">ns</text>
<text x="1581.93" y="1463" font-size="32.5">ns</text>
<text x="1375.57" y="1361.7" font-size="31.69">Splenic macrophages</text>
<text x="1138.58" y="1366" font-size="52" font-weight="bold">j</text>
<text transform="translate(1215.9 1598.39) rotate(-90)" font-size="31.17"><tspan>Relative </tspan><tspan font-style="italic">Ifnb</tspan></text>
<text transform="translate(1252 1635.55) rotate(-90)" font-size="31.52"><tspan>levels over mock</tspan></text>
<text x="1415.06" y="1746.9" font-size="31.6">WT</text>
<text x="1563.92" y="1746.9" font-size="31.5" font-style="italic">Gpr43<tspan font-size="21.42" dy="-14.18">-/-</tspan></text>
<text x="849.23" y="1822.6" font-size="34.7">Vancomycin</text>
<text x="471.02" y="1910.9" font-size="36.6">Vehicle</text>
<text x="754.41" y="1910.9" font-size="36.6">Acetate</text>
<text x="1035.68" y="1910.9" font-size="36.6">Propionate</text>
<text x="1319.88" y="1910.9" font-size="36.6">Butyrate</text>
</g>
</g></svg></body></html>
